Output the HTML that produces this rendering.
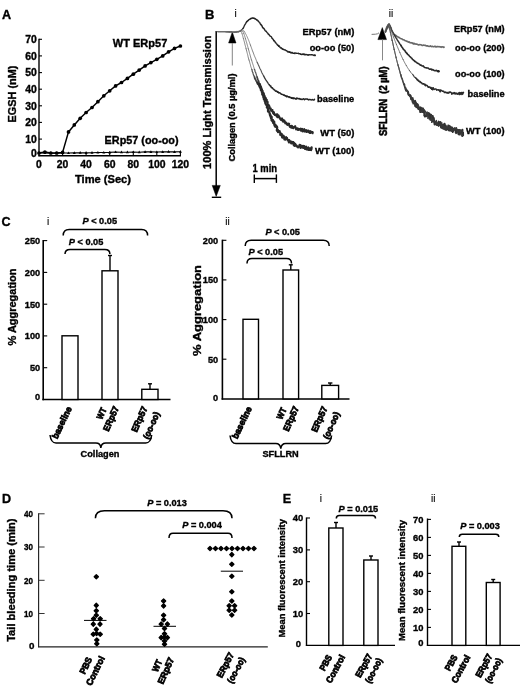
<!DOCTYPE html>
<html><head><meta charset="utf-8"><title>Figure</title>
<style>
html,body{margin:0;padding:0;background:#fff;}
svg{display:block;}
svg text{stroke:#000;stroke-width:.35px;}
svg text.n{stroke-width:.12px;}
svg text.r{stroke-width:.8px;}
svg text.m{stroke-width:.55px;}
</style></head><body>
<svg width="520" height="688" viewBox="0 0 520 688" font-family="'Liberation Sans', sans-serif" font-weight="bold" fill="#000">
<rect x="0" y="0" width="520" height="688" fill="#fff" stroke="none"/>
<g id="panelA">
<text x="2" y="18.7" font-size="12.6">A</text>
<line x1="39" y1="38.8" x2="39" y2="156.29999999999998" stroke-width="1.4" stroke="#000"/>
<line x1="38.4" y1="155.7" x2="181" y2="155.7" stroke-width="1.4" stroke="#000"/>
<text x="36.8" y="156.9" font-size="10.4" text-anchor="end">0</text>
<line x1="39" y1="139.1" x2="42" y2="139.1" stroke-width="1.1" stroke="#000"/>
<text x="36.8" y="142.8" font-size="10.4" text-anchor="end">10</text>
<line x1="39" y1="122.4" x2="42" y2="122.4" stroke-width="1.1" stroke="#000"/>
<text x="36.8" y="126.1" font-size="10.4" text-anchor="end">20</text>
<line x1="39" y1="105.8" x2="42" y2="105.8" stroke-width="1.1" stroke="#000"/>
<text x="36.8" y="109.5" font-size="10.4" text-anchor="end">30</text>
<line x1="39" y1="89.2" x2="42" y2="89.2" stroke-width="1.1" stroke="#000"/>
<text x="36.8" y="92.9" font-size="10.4" text-anchor="end">40</text>
<line x1="39" y1="72.6" x2="42" y2="72.6" stroke-width="1.1" stroke="#000"/>
<text x="36.8" y="76.3" font-size="10.4" text-anchor="end">50</text>
<line x1="39" y1="55.9" x2="42" y2="55.9" stroke-width="1.1" stroke="#000"/>
<text x="36.8" y="59.6" font-size="10.4" text-anchor="end">60</text>
<line x1="39" y1="39.3" x2="42" y2="39.3" stroke-width="1.1" stroke="#000"/>
<text x="36.8" y="43" font-size="10.4" text-anchor="end">70</text>
<text x="39" y="168.3" font-size="10.4" text-anchor="middle">0</text>
<line x1="62.6" y1="155.7" x2="62.6" y2="151.7" stroke-width="1.1" stroke="#000"/>
<text x="62.6" y="168.3" font-size="10.4" text-anchor="middle">20</text>
<line x1="86.1" y1="155.7" x2="86.1" y2="151.7" stroke-width="1.1" stroke="#000"/>
<text x="86.1" y="168.3" font-size="10.4" text-anchor="middle">40</text>
<line x1="109.7" y1="155.7" x2="109.7" y2="151.7" stroke-width="1.1" stroke="#000"/>
<text x="109.7" y="168.3" font-size="10.4" text-anchor="middle">60</text>
<line x1="133.3" y1="155.7" x2="133.3" y2="151.7" stroke-width="1.1" stroke="#000"/>
<text x="133.3" y="168.3" font-size="10.4" text-anchor="middle">80</text>
<line x1="156.8" y1="155.7" x2="156.8" y2="151.7" stroke-width="1.1" stroke="#000"/>
<text x="156.8" y="168.3" font-size="10.4" text-anchor="middle">100</text>
<line x1="180.4" y1="155.7" x2="180.4" y2="151.7" stroke-width="1.1" stroke="#000"/>
<text x="180.4" y="168.3" font-size="10.4" text-anchor="middle">120</text>
<text x="103" y="182.5" font-size="10.5" text-anchor="middle" textLength="56" lengthAdjust="spacingAndGlyphs">Time (Sec)</text>
<text x="16" y="94" font-size="10.5" text-anchor="middle" transform="rotate(-90 16 94)" textLength="57" lengthAdjust="spacingAndGlyphs">EGSH (nM)</text>
<path d="M39,153 L44.9,152 L50.8,153 L56.7,153 L62.6,152.4 L68.5,131.9 L74.3,124.9 L80.2,118.3 L86.1,112.5 L92,107.5 L97.9,101.7 L103.8,95.8 L109.7,90.8 L115.6,85.9 L121.5,82.5 L127.4,78.4 L133.3,74.2 L139.2,70.1 L145.1,65.9 L150.9,62.6 L156.8,59.3 L162.7,55.9 L168.6,51.8 L174.5,48.4 L180.4,46" stroke-width="1.5" fill="none" stroke="#000" stroke-linejoin="round"/>
<circle cx="39" cy="153" r="1.85" stroke="none" fill="#000"/>
<circle cx="44.9" cy="152" r="1.85" stroke="none" fill="#000"/>
<circle cx="50.8" cy="153" r="1.85" stroke="none" fill="#000"/>
<circle cx="56.7" cy="153" r="1.85" stroke="none" fill="#000"/>
<circle cx="62.6" cy="152.4" r="1.85" stroke="none" fill="#000"/>
<circle cx="68.5" cy="131.9" r="1.85" stroke="none" fill="#000"/>
<circle cx="74.3" cy="124.9" r="1.85" stroke="none" fill="#000"/>
<circle cx="80.2" cy="118.3" r="1.85" stroke="none" fill="#000"/>
<circle cx="86.1" cy="112.5" r="1.85" stroke="none" fill="#000"/>
<circle cx="92" cy="107.5" r="1.85" stroke="none" fill="#000"/>
<circle cx="97.9" cy="101.7" r="1.85" stroke="none" fill="#000"/>
<circle cx="103.8" cy="95.8" r="1.85" stroke="none" fill="#000"/>
<circle cx="109.7" cy="90.8" r="1.85" stroke="none" fill="#000"/>
<circle cx="115.6" cy="85.9" r="1.85" stroke="none" fill="#000"/>
<circle cx="121.5" cy="82.5" r="1.85" stroke="none" fill="#000"/>
<circle cx="127.4" cy="78.4" r="1.85" stroke="none" fill="#000"/>
<circle cx="133.3" cy="74.2" r="1.85" stroke="none" fill="#000"/>
<circle cx="139.2" cy="70.1" r="1.85" stroke="none" fill="#000"/>
<circle cx="145.1" cy="65.9" r="1.85" stroke="none" fill="#000"/>
<circle cx="150.9" cy="62.6" r="1.85" stroke="none" fill="#000"/>
<circle cx="156.8" cy="59.3" r="1.85" stroke="none" fill="#000"/>
<circle cx="162.7" cy="55.9" r="1.85" stroke="none" fill="#000"/>
<circle cx="168.6" cy="51.8" r="1.85" stroke="none" fill="#000"/>
<circle cx="174.5" cy="48.4" r="1.85" stroke="none" fill="#000"/>
<circle cx="180.4" cy="46" r="1.85" stroke="none" fill="#000"/>
<path d="M39,153 L44.9,152.9 L50.8,153.2 L56.7,153.2 L62.6,153 L68.5,153 L74.3,152.9 L80.2,152.7 L86.1,152.9 L92,152.7 L97.9,152.5 L103.8,152.5 L109.7,152.4 L115.6,152 L121.5,152.2 L127.4,152.2 L133.3,152 L139.2,152.2 L145.1,151.9 L150.9,151.9 L156.8,152 L162.7,151.9 L168.6,151.7 L174.5,151.9 L180.4,151.7" stroke-width="1.1" fill="none" stroke="#000"/>
<path d="M37.5,154 L39,151.4 L40.5,154z" stroke="none" fill="#000"/>
<path d="M43.4,153.9 L44.9,151.3 L46.4,153.9z" stroke="none" fill="#000"/>
<path d="M49.3,154.2 L50.8,151.6 L52.3,154.2z" stroke="none" fill="#000"/>
<path d="M55.2,154.2 L56.7,151.6 L58.2,154.2z" stroke="none" fill="#000"/>
<path d="M61.1,154 L62.6,151.4 L64.1,154z" stroke="none" fill="#000"/>
<path d="M67,154 L68.5,151.4 L70,154z" stroke="none" fill="#000"/>
<path d="M72.8,153.9 L74.3,151.3 L75.8,153.9z" stroke="none" fill="#000"/>
<path d="M78.7,153.7 L80.2,151.1 L81.7,153.7z" stroke="none" fill="#000"/>
<path d="M84.6,153.9 L86.1,151.3 L87.6,153.9z" stroke="none" fill="#000"/>
<path d="M90.5,153.7 L92,151.1 L93.5,153.7z" stroke="none" fill="#000"/>
<path d="M96.4,153.5 L97.9,150.9 L99.4,153.5z" stroke="none" fill="#000"/>
<path d="M102.3,153.5 L103.8,150.9 L105.3,153.5z" stroke="none" fill="#000"/>
<path d="M108.2,153.4 L109.7,150.8 L111.2,153.4z" stroke="none" fill="#000"/>
<path d="M114.1,153 L115.6,150.4 L117.1,153z" stroke="none" fill="#000"/>
<path d="M120,153.2 L121.5,150.6 L123,153.2z" stroke="none" fill="#000"/>
<path d="M125.9,153.2 L127.4,150.6 L128.9,153.2z" stroke="none" fill="#000"/>
<path d="M131.8,153 L133.3,150.4 L134.8,153z" stroke="none" fill="#000"/>
<path d="M137.7,153.2 L139.2,150.6 L140.7,153.2z" stroke="none" fill="#000"/>
<path d="M143.6,152.9 L145.1,150.3 L146.6,152.9z" stroke="none" fill="#000"/>
<path d="M149.4,152.9 L150.9,150.3 L152.4,152.9z" stroke="none" fill="#000"/>
<path d="M155.3,153 L156.8,150.4 L158.3,153z" stroke="none" fill="#000"/>
<path d="M161.2,152.9 L162.7,150.3 L164.2,152.9z" stroke="none" fill="#000"/>
<path d="M167.1,152.7 L168.6,150.1 L170.1,152.7z" stroke="none" fill="#000"/>
<path d="M173,152.9 L174.5,150.3 L176,152.9z" stroke="none" fill="#000"/>
<path d="M178.9,152.7 L180.4,150.1 L181.9,152.7z" stroke="none" fill="#000"/>
<text x="112.8" y="46.6" font-size="10.8" textLength="54.5" lengthAdjust="spacingAndGlyphs">WT ERp57</text>
<text x="104.6" y="143.7" font-size="10.8" textLength="74" lengthAdjust="spacingAndGlyphs">ERp57 (oo-oo)</text>
</g>
<g id="panelB">
<text x="205" y="18.5" font-size="13">B</text>
<text x="235.5" y="17" font-size="10" text-anchor="middle" font-weight="normal" class="n">i</text>
<line x1="216.2" y1="31" x2="216.2" y2="188" stroke-width="1.5" stroke="#000"/>
<line x1="216.2" y1="31.6" x2="232" y2="31.6" stroke-width="0.9" stroke="#555"/>
<path d="M212.2,185.4 L220.3,185.4 L216.2,196.4 z" stroke-width="0.5" fill="#000" stroke="#000"/>
<line x1="211.8" y1="197.3" x2="221.2" y2="197.3" stroke-width="1.4" stroke="#000"/>
<text x="210.6" y="102.2" font-size="10.4" text-anchor="middle" transform="rotate(-90 210.6 102.2)" textLength="133.5" lengthAdjust="spacingAndGlyphs">100% Light Transmission</text>
<path d="M232.3,32 L228.6,43 L236,43 z" stroke-width="0.5" fill="#000" stroke="#000"/>
<line x1="232.3" y1="43" x2="232.3" y2="65.5" stroke-width="0.9" stroke="#777"/>
<text x="234.8" y="117.5" font-size="8.4" text-anchor="middle" transform="rotate(-90 234.8 117.5)" textLength="88" lengthAdjust="spacingAndGlyphs">Collagen (0.5 µg/ml)</text>
<path d="M218,32 L218.5,32 L219.1,32 L219.9,32 L220.7,32 L221.6,32 L222.6,32 L223.6,32 L224.6,32 L225.6,32 L226.6,32 L227.6,32 L228.5,32 L229.3,32 L230,32 L230.6,32 L231.2,32 L231.8,32.1 L232.3,32.1 L232.8,32.1 L233.2,32.1 L233.6,32.2 L234.1,32.2" stroke-width="0.9" fill="none" stroke="#666666" stroke-linejoin="round" stroke-linecap="round"/>
<path d="M234.1,32.2 L234.5,32.2 L234.9,32.2 L235.3,32.2 L235.7,32.2 L236.1,32.1 L236.5,32 L236.9,31.9 L237.4,31.8 L237.8,31.6 L238.3,31.5 L238.8,31.3 L239.2,31.1 L239.6,30.9 L240.1,30.7 L240.5,30.4 L240.9,30.2 L241.3,30 L241.6,29.7 L242,29.5 L242.3,29.2 L242.6,29 L242.8,28.6" stroke-width="1.06" fill="none" stroke="#505050" stroke-linejoin="round" stroke-linecap="round"/>
<path d="M242.8,28.6 L243.1,28.4 L243.3,28 L243.5,27.6 L243.6,27.4 L243.9,26.8 L244,26.5 L244.1,26.2 L244.3,25.8 L244.4,25.5 L244.6,25.2 L244.8,24.9 L245,24.5 L245.2,24.1 L245.4,24 L245.6,23.7 L245.8,23.3 L245.9,23 L246.1,22.6 L246.3,22.3 L246.5,22 L246.7,21.7 L246.9,21.5" stroke-width="1.38" fill="none" stroke="#242424" stroke-linejoin="round" stroke-linecap="round"/>
<path d="M246.9,21.5 L247.2,21.5 L247.5,20.9 L247.7,20.8 L248,20.4 L248.3,20.6 L248.6,20.1 L248.9,19.7 L249.2,19.5 L249.6,19.2 L249.9,19.3 L250.3,18.7 L250.6,18.4 L251,18.7 L251.4,18.4 L251.7,18.1 L252.1,18.2 L252.5,18.1 L252.9,17.8 L253.3,18.3 L253.7,18.3 L254.2,18.4 L254.5,18.5" stroke-width="1.4" fill="none" stroke="#222222" stroke-linejoin="round" stroke-linecap="round"/>
<path d="M254.5,18.5 L254.9,18.4 L255.3,18.8 L255.8,19.3 L256.3,19.4 L256.7,20.1 L257.2,20 L257.5,20.2 L257.9,20.6 L258.3,21.4 L258.8,21.5 L259.1,22.1 L259.3,22.4 L259.8,22.9 L260.1,23.1 L260.3,23.8 L260.6,24.3 L261.1,24.5 L261.3,25.4 L261.7,25.3 L261.9,25.9 L262.4,26.9 L262.6,27.5" stroke-width="1.4" fill="none" stroke="#222222" stroke-linejoin="round" stroke-linecap="round"/>
<path d="M262.6,27.5 L263.2,27.9 L263.5,28.3 L263.9,28.5 L264.6,29.6 L265,30.4 L265.5,31 L266.2,31.1 L266.6,31.8 L267.2,32.7 L267.8,33.2 L268.4,34.3 L269,34.5 L269.6,35.6 L270.2,36.2 L270.7,36.4 L271.2,36.6 L271.7,37.3 L272,38.4 L272.5,38.7 L273.1,39.3 L273.4,39.8 L273.8,40.6" stroke-width="1.4" fill="none" stroke="#222222" stroke-linejoin="round" stroke-linecap="round"/>
<path d="M273.8,40.6 L274.1,40.9 L274.6,41.2 L275.1,41.9 L275.4,42.6 L275.9,42.8 L276.2,43.3 L276.6,43.9 L277,44.2 L277.4,45 L277.9,45.4 L278.3,45.2 L278.6,46.2 L279.1,45.8 L279.2,46.5 L279.6,46.6 L280,47.3 L280.6,47.9 L280.8,48 L281.4,47.8 L281.9,48.8 L282.2,49.1 L282.7,49" stroke-width="1.4" fill="none" stroke="#222222" stroke-linejoin="round" stroke-linecap="round"/>
<path d="M282.7,49 L283.3,49.6 L283.6,49.5 L284.3,49.7 L284.7,50 L285.4,49.9 L286,50.6 L286.4,50.7 L287.2,51.1 L287.6,51.8 L288.4,52 L288.7,51.6 L289.3,52.2 L289.8,51.8 L290.4,52.7 L290.9,52.2 L291.2,53 L291.8,52.9 L292,52.4 L292.6,52.8 L292.8,53.3 L293.3,53.3 L293.6,53.4" stroke-width="1.4" fill="none" stroke="#222222" stroke-linejoin="round" stroke-linecap="round"/>
<path d="M293.6,53.4 L293.9,53.4 L294.4,53 L294.8,53.6 L295.1,52.9 L295.6,53.1 L295.9,53.1 L296.3,53.2 L296.8,53.4 L297.3,53.4 L297.7,53.4 L298,53.3 L298.4,53.3 L299,53.9 L299.3,53.9 L299.9,53.6 L300.3,53.9 L300.6,54.3 L301.1,54.1 L301.6,54.6 L302,54.5 L302.5,54.4 L302.9,54.2" stroke-width="1.4" fill="none" stroke="#222222" stroke-linejoin="round" stroke-linecap="round"/>
<path d="M302.9,54.2 L303.3,54 L303.8,54.6 L304.4,54.1 L304.8,54.8 L305.6,54.7 L305.9,54.3 L306.4,54.6 L306.9,54.6 L307.5,55.1 L308.2,54.8 L308.4,55.2 L308.9,54.7 L309.4,54.7 L310,54.9 L310.4,54.9 L310.9,54.7 L311.5,54.9 L312,54.6 L312.6,54.8 L313.2,55.1 L313.7,55.2 L314.1,55.5" stroke-width="1.4" fill="none" stroke="#222222" stroke-linejoin="round" stroke-linecap="round"/>
<path d="M314.1,55.5 L314.4,55 L315,54.9 L315.2,55.3 L315.3,55.5" stroke-width="1.4" fill="none" stroke="#222222" stroke-linejoin="round" stroke-linecap="round"/>
<path d="M232,31.6 L232.3,31.6 L232.8,31.6 L233.3,31.6 L233.8,31.5 L234.5,31.5 L235.1,31.5 L235.8,31.5 L236.5,31.4 L237.2,31.4 L237.8,31.4 L238.5,31.3 L239,31.3 L239.6,31.2 L240,31.2 L240.4,31.1 L240.7,31" stroke-width="0.8" fill="none" stroke="#777777" stroke-linejoin="round" stroke-linecap="round"/>
<path d="M240.7,31 L241,30.9 L241.2,30.7 L241.5,30.5 L241.7,30.3 L241.9,30.1 L242,30 L242.2,29.9 L242.4,29.8 L242.6,29.8 L242.8,29.8 L243,30 L243.3,30.2 L243.6,30.5 L243.9,30.9 L244.2,31.3 L244.5,31.8" stroke-width="0.8" fill="none" stroke="#777777" stroke-linejoin="round" stroke-linecap="round"/>
<path d="M244.5,31.8 L244.8,32.3 L245.2,32.9 L245.5,33.5 L245.8,34.1 L246.2,34.8 L246.5,35.6 L246.9,36.3 L247.3,37.1 L247.6,38 L248,38.8 L248.4,39.7 L248.8,40.7 L249.2,41.7 L249.6,42.8 L250,43.9 L250.4,45" stroke-width="0.8" fill="none" stroke="#777777" stroke-linejoin="round" stroke-linecap="round"/>
<path d="M250.4,45 L250.8,46.2 L251.3,47.4 L251.7,48.6 L252.1,49.7 L252.5,50.9 L253,52 L253.4,53.1 L253.8,54.2 L254.2,55.3 L254.6,56.3 L255,57.2 L255.5,58.2 L255.9,59.3 L256.3,60.3 L256.7,61.3 L257.1,62.2" stroke-width="0.87" fill="none" stroke="#6e6e6e" stroke-linejoin="round" stroke-linecap="round"/>
<path d="M257.1,62.2 L257.5,63 L258,64 L258.4,65 L258.8,65.8 L259.2,66.7 L259.6,67.6 L260,68.7 L260.5,69.4 L260.9,70.3 L261.3,71.2 L261.6,72 L262,73.1 L262.5,73.7 L263,74.9 L263.3,75.3 L263.7,76" stroke-width="1.09" fill="none" stroke="#535353" stroke-linejoin="round" stroke-linecap="round"/>
<path d="M263.7,76 L264.1,76.8 L264.5,77.6 L265,78.7 L265.4,79.2 L265.8,79.9 L266.2,80.4 L266.5,81 L267.1,81.5 L267.4,82.4 L267.9,82.7 L268.1,83.3 L268.6,84 L269.1,84.8 L269.5,84.7 L269.7,85.7 L270.4,86" stroke-width="1.31" fill="none" stroke="#383838" stroke-linejoin="round" stroke-linecap="round"/>
<path d="M270.4,86 L270.8,86.1 L271.2,87.3 L271.8,87.8 L272.3,87.7 L272.6,88.1 L273.2,89 L273.8,89.4 L274.3,89.9 L274.7,90.1 L275.2,90.7 L275.8,91.3 L276.5,91 L276.9,91.4 L277.6,92.2 L278.1,91.9 L278.8,92.8" stroke-width="1.5" fill="none" stroke="#222222" stroke-linejoin="round" stroke-linecap="round"/>
<path d="M278.8,92.8 L279.4,92.8 L280.1,92.9 L280.7,93.7 L281.6,94.3 L282.4,94.4 L282.9,94.5 L283.9,95.3 L284.4,95 L285.2,95.9 L285.9,95.8 L286.6,96.7 L287.2,96.1 L287.9,96.7 L288.6,96.7 L289.2,97.4 L289.6,97.1" stroke-width="1.5" fill="none" stroke="#222222" stroke-linejoin="round" stroke-linecap="round"/>
<path d="M289.6,97.1 L290.2,97.3 L290.7,97.4 L291,98 L291.4,98.3 L291.9,97.6 L292.3,97.9 L292.8,98.5 L293.1,98 L293.5,98.7 L294,97.8 L294.4,98.2 L295.1,98.8 L295.5,99 L296.1,98.4 L296.3,99.1 L296.9,98.2" stroke-width="1.5" fill="none" stroke="#222222" stroke-linejoin="round" stroke-linecap="round"/>
<path d="M296.9,98.2 L297.3,98.6 L297.6,98.6 L298,98.4 L298.5,98.8 L299.2,98.6 L299.7,98.7 L300.1,99.4 L300.8,99 L301.2,99.1 L302,99.6 L302.7,99.1 L303.7,98.8 L304.5,99.7 L305.6,98.9 L306.4,99 L307.7,99.3" stroke-width="1.5" fill="none" stroke="#222222" stroke-linejoin="round" stroke-linecap="round"/>
<path d="M307.7,99.3 L308.7,99.9 L309.6,99.4 L310.8,99.8 L311.5,99.9 L312.4,99.5 L313.1,100 L314,99.9 L314.5,99.3" stroke-width="1.5" fill="none" stroke="#222222" stroke-linejoin="round" stroke-linecap="round"/>
<path d="M228,32 L228.2,32 L228.5,32 L228.8,32 L229.2,32 L229.5,32 L229.9,32 L230.4,32 L230.8,32 L231.3,32 L231.8,32" stroke-width="0.8" fill="none" stroke="#666666" stroke-linejoin="round" stroke-linecap="round"/>
<path d="M231.8,32 L232.2,32 L232.7,32 L233.2,32 L233.6,32 L234.1,32 L234.5,32 L234.9,32 L235.3,32 L235.7,32 L236,32" stroke-width="0.8" fill="none" stroke="#666666" stroke-linejoin="round" stroke-linecap="round"/>
<path d="M236,32 L236.3,32 L236.6,32 L236.8,32 L237.1,31.9 L237.3,31.9 L237.5,31.9 L237.8,31.9 L238,31.8 L238.2,31.8 L238.3,31.8" stroke-width="0.8" fill="none" stroke="#666666" stroke-linejoin="round" stroke-linecap="round"/>
<path d="M238.3,31.8 L238.5,31.8 L238.7,31.7 L238.9,31.7 L239,31.7 L239.2,31.6 L239.4,31.6 L239.5,31.6 L239.7,31.6 L239.8,31.5 L240,31.5" stroke-width="0.8" fill="none" stroke="#666666" stroke-linejoin="round" stroke-linecap="round"/>
<path d="M240,31.5 L240.2,31.5 L240.3,31.4 L240.5,31.3 L240.6,31.3 L240.7,31.2 L240.8,31.1 L241,31 L241.1,30.9 L241.2,30.8 L241.3,30.7" stroke-width="0.8" fill="none" stroke="#666666" stroke-linejoin="round" stroke-linecap="round"/>
<path d="M241.3,30.7 L241.4,30.7 L241.5,30.6 L241.6,30.6 L241.8,30.5 L241.9,30.5 L242,30.6 L242.1,30.6 L242.2,30.7 L242.4,30.8 L242.5,31" stroke-width="0.8" fill="none" stroke="#666666" stroke-linejoin="round" stroke-linecap="round"/>
<path d="M242.5,31 L242.6,31.2 L242.8,31.4 L242.9,31.6 L243,31.8 L243.1,32.1 L243.3,32.3 L243.4,32.6 L243.5,32.9 L243.6,33.2 L243.8,33.5" stroke-width="0.8" fill="none" stroke="#666666" stroke-linejoin="round" stroke-linecap="round"/>
<path d="M243.8,33.5 L243.9,33.9 L244.1,34.3 L244.2,34.7 L244.4,35.2 L244.5,35.7 L244.7,36.2 L244.9,36.8 L245.1,37.4 L245.3,38.1 L245.5,38.8" stroke-width="0.8" fill="none" stroke="#666666" stroke-linejoin="round" stroke-linecap="round"/>
<path d="M245.5,38.8 L245.7,39.6 L246,40.4 L246.2,41.3 L246.5,42.2 L246.8,43.2 L247.1,44.3 L247.4,45.4 L247.7,46.5 L248,47.6 L248.3,48.8" stroke-width="0.8" fill="none" stroke="#666666" stroke-linejoin="round" stroke-linecap="round"/>
<path d="M248.3,48.8 L248.7,50 L249,51.2 L249.3,52.3 L249.6,53.5 L250,54.7 L250.3,55.8 L250.6,56.9 L250.9,58 L251.2,59 L251.5,60" stroke-width="0.8" fill="none" stroke="#666666" stroke-linejoin="round" stroke-linecap="round"/>
<path d="M251.5,60 L251.8,60.9 L252.1,61.9 L252.4,62.9 L252.7,63.7 L253,64.7 L253.3,65.5 L253.6,66.6 L253.9,67.5 L254.1,68.4 L254.4,69.3" stroke-width="0.8" fill="none" stroke="#666666" stroke-linejoin="round" stroke-linecap="round"/>
<path d="M254.4,69.3 L254.8,69.9 L255,71.1 L255.2,71.7 L255.6,72.4 L255.9,73.3 L256.2,74 L256.4,75.2 L256.6,75.6 L256.9,76.4 L257.1,77.1" stroke-width="1.22" fill="none" stroke="#525252" stroke-linejoin="round" stroke-linecap="round"/>
<path d="M257.1,77.1 L257.4,78.3 L257.8,79 L257.9,79.7 L258.1,80.2 L258.5,80.8 L258.8,81.6 L259,82.6 L259.1,83.3 L259.5,83.5 L259.8,84" stroke-width="1.65" fill="none" stroke="#3e3e3e" stroke-linejoin="round" stroke-linecap="round"/>
<path d="M259.8,84 L260.1,84.9 L260.2,85.7 L260.4,85.7 L260.7,86.2 L261,86.9 L261.2,88.3 L261.4,88.5 L261.5,88.3 L261.6,89 L262,89.9" stroke-width="2.08" fill="none" stroke="#2a2a2a" stroke-linejoin="round" stroke-linecap="round"/>
<path d="M262,89.9 L262.2,91 L262.3,90.7 L262.7,90.9 L262.6,91.8 L262.8,92.2 L263,93 L263.4,92.8 L263.6,93.6 L263.5,94.7 L263.7,93.9" stroke-width="2.1" fill="none" stroke="#2a2a2a" stroke-linejoin="round" stroke-linecap="round"/>
<path d="M263.7,93.9 L263.8,95.1 L264.4,95.7 L264.3,95.3 L264.3,96.3 L264.8,96.2 L265,96.8 L265.4,97.8 L265.2,98.5 L265.3,98.4 L265.7,98.3" stroke-width="2.1" fill="none" stroke="#2a2a2a" stroke-linejoin="round" stroke-linecap="round"/>
<path d="M265.7,98.3 L265.8,99.8 L266,100 L266.8,99.8 L266.6,101.2 L267,101.9 L267.5,101.6 L267.5,102.4 L267.6,104.3 L268.3,104.6 L268.1,105.5" stroke-width="2.1" fill="none" stroke="#2a2a2a" stroke-linejoin="round" stroke-linecap="round"/>
<path d="M268.1,105.5 L268.8,105.3 L269.1,105.9 L269.1,105.7 L269.4,106.2 L269.8,108.3 L270.3,109.1 L270.7,108.4 L270.9,109.3 L271.4,110 L271.3,110.7" stroke-width="2.1" fill="none" stroke="#2a2a2a" stroke-linejoin="round" stroke-linecap="round"/>
<path d="M271.3,110.7 L272.2,110.2 L272.5,110.1 L272.4,111 L273.1,113.2 L273.5,112 L274,112.3 L273.8,114.1 L274.5,113.9 L275,115 L275.2,114.9" stroke-width="2.1" fill="none" stroke="#2a2a2a" stroke-linejoin="round" stroke-linecap="round"/>
<path d="M275.2,114.9 L275.8,115.3 L276,115.2 L276.5,114.3 L276.6,115.5 L276.9,116.6 L277.3,114.4 L277.7,117.3 L278.3,115.3 L278.4,115.3 L279.4,117.4" stroke-width="2.1" fill="none" stroke="#2a2a2a" stroke-linejoin="round" stroke-linecap="round"/>
<path d="M279.4,117.4 L279.8,118 L279.6,118 L280.2,119 L281,119.6 L280.8,119.9 L281.9,120.4 L281.6,118.6 L282,118.4 L283,121.1 L283.2,121.5" stroke-width="2.1" fill="none" stroke="#2a2a2a" stroke-linejoin="round" stroke-linecap="round"/>
<path d="M283.2,121.5 L283.6,120.3 L283.5,120.1 L284.5,120.7 L284.5,121.7 L284.6,121.6 L285.3,123.3 L285.7,122.4 L286.6,123.2 L286.9,123.9 L286.6,123.5" stroke-width="2.1" fill="none" stroke="#2a2a2a" stroke-linejoin="round" stroke-linecap="round"/>
<path d="M286.6,123.5 L287.3,124.9 L287.6,124.9 L288.2,123.7 L288.9,123.6 L289.2,124 L288.8,124.3 L289.9,126.9 L289.6,125.6 L290.4,126.7 L290.5,126" stroke-width="2.1" fill="none" stroke="#2a2a2a" stroke-linejoin="round" stroke-linecap="round"/>
<path d="M290.5,126 L291,127.2 L291.3,127.7 L291.7,125.7 L292.5,126.7 L292.3,127.3 L292.7,127.9 L293.6,128.1 L294,127 L294.1,127.2 L295,126.5" stroke-width="2.1" fill="none" stroke="#2a2a2a" stroke-linejoin="round" stroke-linecap="round"/>
<path d="M295,126.5 L295.3,126.4 L295.1,127.3 L296.1,128.1 L296.1,129.4 L296.3,128.3 L297,129.3 L297.6,129.1 L297.7,128.3 L297.9,129.9 L298.8,129.8" stroke-width="2.1" fill="none" stroke="#2a2a2a" stroke-linejoin="round" stroke-linecap="round"/>
<path d="M298.8,129.8 L298.7,129 L299.7,129.5 L299.5,129.2 L300.6,128.7 L300.3,129 L301.1,130.7 L301,128.7 L301.4,129.3 L302,128.9 L302.1,129.1" stroke-width="2.1" fill="none" stroke="#2a2a2a" stroke-linejoin="round" stroke-linecap="round"/>
<path d="M302.1,129.1 L303,130.8 L302.5,131.5 L302.8,129.9 L303.8,131.2 L303.9,130.1 L303.6,130.8 L303.8,129.6 L304.2,129.1 L304.5,131.4 L304.9,130.6" stroke-width="2.1" fill="none" stroke="#2a2a2a" stroke-linejoin="round" stroke-linecap="round"/>
<path d="M304.9,130.6 L305.1,130.5 L304.9,131 L305.3,131.4 L306,130.5 L305.9,131.5 L306,130 L306.5,132 L306.7,131.5 L307.1,131.5 L307.1,130.9" stroke-width="2.1" fill="none" stroke="#2a2a2a" stroke-linejoin="round" stroke-linecap="round"/>
<path d="M307.1,130.9 L307.1,131.4 L307.2,130.9 L308.1,131.8 L308.3,130.5 L308.5,131.1 L309,131.1 L309.4,132.7 L309.3,131.9 L310.2,131.2 L310.2,133" stroke-width="2.1" fill="none" stroke="#2a2a2a" stroke-linejoin="round" stroke-linecap="round"/>
<path d="M310.2,133 L310.2,131.7 L310.6,132.5 L311.6,131.8 L311.2,132 L311.8,132.5 L312.1,132.3 L312.6,132 L312.5,133.3 L312.5,132.5 L312.8,132.8" stroke-width="2.1" fill="none" stroke="#2a2a2a" stroke-linejoin="round" stroke-linecap="round"/>
<path d="M226,32.3 L226.2,32.3 L226.5,32.3 L226.8,32.3 L227.1,32.3 L227.5,32.3 L227.9,32.3 L228.3,32.3 L228.8,32.3 L229.3,32.3 L229.7,32.3" stroke-width="0.8" fill="none" stroke="#666666" stroke-linejoin="round" stroke-linecap="round"/>
<path d="M229.7,32.3 L230.2,32.3 L230.7,32.3 L231.1,32.3 L231.6,32.3 L232.1,32.3 L232.5,32.3 L232.9,32.3 L233.3,32.3 L233.7,32.3 L234,32.3" stroke-width="0.8" fill="none" stroke="#666666" stroke-linejoin="round" stroke-linecap="round"/>
<path d="M234,32.3 L234.3,32.3 L234.6,32.3 L234.9,32.3 L235.2,32.3 L235.4,32.3 L235.7,32.2 L235.9,32.2 L236.1,32.2 L236.4,32.2 L236.6,32.2" stroke-width="0.8" fill="none" stroke="#666666" stroke-linejoin="round" stroke-linecap="round"/>
<path d="M236.6,32.2 L236.8,32.2 L237,32.1 L237.2,32.1 L237.4,32.1 L237.6,32.1 L237.8,32.1 L238,32.1 L238.1,32 L238.3,32 L238.5,32" stroke-width="0.8" fill="none" stroke="#666666" stroke-linejoin="round" stroke-linecap="round"/>
<path d="M238.5,32 L238.7,32 L238.8,31.9 L239,31.9 L239.1,31.8 L239.3,31.7 L239.4,31.6 L239.5,31.5 L239.6,31.4 L239.8,31.4 L239.9,31.3" stroke-width="0.8" fill="none" stroke="#666666" stroke-linejoin="round" stroke-linecap="round"/>
<path d="M239.9,31.3 L240,31.2 L240.1,31.1 L240.2,31.1 L240.3,31.1 L240.4,31.1 L240.5,31.1 L240.6,31.2 L240.8,31.2 L240.9,31.3 L241,31.5" stroke-width="0.8" fill="none" stroke="#666666" stroke-linejoin="round" stroke-linecap="round"/>
<path d="M241,31.5 L241.1,31.7 L241.2,31.9 L241.3,32 L241.5,32.2 L241.6,32.5 L241.7,32.7 L241.8,32.9 L241.9,33.2 L242,33.5 L242.1,33.8" stroke-width="0.8" fill="none" stroke="#666666" stroke-linejoin="round" stroke-linecap="round"/>
<path d="M242.1,33.8 L242.2,34.1 L242.3,34.5 L242.4,34.9 L242.5,35.3 L242.7,35.8 L242.8,36.3 L243,36.9 L243.1,37.5 L243.3,38.1 L243.5,38.8" stroke-width="0.8" fill="none" stroke="#666666" stroke-linejoin="round" stroke-linecap="round"/>
<path d="M243.5,38.8 L243.7,39.6 L243.9,40.4 L244.2,41.3 L244.4,42.2 L244.7,43.2 L244.9,44.3 L245.2,45.3 L245.5,46.5 L245.8,47.6 L246.1,48.8" stroke-width="0.8" fill="none" stroke="#666666" stroke-linejoin="round" stroke-linecap="round"/>
<path d="M246.1,48.8 L246.4,50 L246.7,51.1 L247,52.3 L247.3,53.5 L247.6,54.6 L247.9,55.8 L248.1,56.9 L248.4,58 L248.7,59 L249,60" stroke-width="0.8" fill="none" stroke="#666666" stroke-linejoin="round" stroke-linecap="round"/>
<path d="M249,60 L249.3,61 L249.6,61.9 L249.8,62.8 L250.1,63.8 L250.4,64.7 L250.6,65.8 L250.9,66.8 L251.2,67.7 L251.4,68.3 L251.8,69.3" stroke-width="0.8" fill="none" stroke="#666666" stroke-linejoin="round" stroke-linecap="round"/>
<path d="M251.8,69.3 L252.1,70.1 L252.2,71.2 L252.6,72.1 L252.9,72.6 L253.1,73.7 L253.4,74.6 L253.6,75.4 L254,75.6 L254.1,76.7 L254.6,77" stroke-width="1.25" fill="none" stroke="#525252" stroke-linejoin="round" stroke-linecap="round"/>
<path d="M254.6,77 L254.7,78.1 L255,78.8 L255.3,78.8 L255.6,79.7 L255.9,80.3 L256.1,80.9 L256.4,81.2 L256.8,81.5 L257,82.2 L257.4,82.7" stroke-width="1.71" fill="none" stroke="#3e3e3e" stroke-linejoin="round" stroke-linecap="round"/>
<path d="M257.4,82.7 L257.6,82.6 L257.7,83.7 L258.2,84 L258.3,84.2 L258.8,84.9 L259,84.7 L259.2,85.9 L259.4,86.1 L259.8,87 L260.1,86.7" stroke-width="2.18" fill="none" stroke="#2a2a2a" stroke-linejoin="round" stroke-linecap="round"/>
<path d="M260.1,86.7 L260,87.3 L260.5,88.3 L260.9,89.4 L260.8,90 L261.4,90.7 L261.5,90.4 L261.9,92 L262,92.8 L262.1,92.1 L262.4,94.1" stroke-width="2.2" fill="none" stroke="#2a2a2a" stroke-linejoin="round" stroke-linecap="round"/>
<path d="M262.4,94.1 L262.5,94.7 L263.1,94.5 L263.1,96 L263.3,95.9 L263.4,97.6 L264,97.8 L263.8,99.2 L264.4,98.8 L264.6,100.9 L265,100.8" stroke-width="2.2" fill="none" stroke="#2a2a2a" stroke-linejoin="round" stroke-linecap="round"/>
<path d="M265,100.8 L265.1,101.7 L265.1,101.7 L265.4,103.5 L265.8,104 L266.1,104.7 L266.3,104.5 L267.1,106 L266.8,107.4 L267.6,107.1 L267.8,108.4" stroke-width="2.2" fill="none" stroke="#2a2a2a" stroke-linejoin="round" stroke-linecap="round"/>
<path d="M267.8,108.4 L268,108.4 L268,111.6 L268.9,111.1 L269,111.4 L269.4,112.5 L269.8,114.2 L270,115.4 L269.9,113.7 L270.1,114.7 L270.3,115" stroke-width="2.2" fill="none" stroke="#2a2a2a" stroke-linejoin="round" stroke-linecap="round"/>
<path d="M270.3,115 L270.9,117.8 L271.1,118.6 L271.7,116.7 L271.7,118.2 L271.5,120.4 L271.9,119.7 L272.4,121.4 L272.7,120.2 L272.7,119.9 L273.4,122.9" stroke-width="2.2" fill="none" stroke="#2a2a2a" stroke-linejoin="round" stroke-linecap="round"/>
<path d="M273.4,122.9 L273,120.4 L273.2,121.8 L274.1,124 L274.2,121.7 L274.4,124.3 L274.5,125.6 L274.2,123.3 L275.1,126.4 L275.3,124.7 L275.5,126.7" stroke-width="2.2" fill="none" stroke="#2a2a2a" stroke-linejoin="round" stroke-linecap="round"/>
<path d="M275.5,126.7 L275.3,125.7 L275.7,125.4 L276.2,126 L276.2,126.4 L276.9,126.4 L277.2,127.5 L276.8,130.4 L277.3,130.9 L278.2,131.2 L277.8,130.1" stroke-width="2.2" fill="none" stroke="#2a2a2a" stroke-linejoin="round" stroke-linecap="round"/>
<path d="M277.8,130.1 L278,132.2 L279.1,131.6 L278.9,131 L279.6,131.9 L279.7,131.2 L279.6,131.3 L280.4,133.4 L280.2,134.9 L280.6,133.7 L280.8,133.6" stroke-width="2.2" fill="none" stroke="#2a2a2a" stroke-linejoin="round" stroke-linecap="round"/>
<path d="M280.8,133.6 L281.9,134.2 L281.5,135.1 L282.1,136.9 L282.2,137.5 L282.5,137.6 L283.5,135.7 L283.7,136.3 L283.9,136.4 L284.4,139.4 L285.4,139.5" stroke-width="2.2" fill="none" stroke="#2a2a2a" stroke-linejoin="round" stroke-linecap="round"/>
<path d="M285.4,139.5 L284.9,137.7 L286.1,137.2 L286.3,138.4 L286.9,137.8 L287.2,139.2 L286.9,138.3 L288,140.4 L287.7,140.4 L288.8,140 L288.9,140" stroke-width="2.2" fill="none" stroke="#2a2a2a" stroke-linejoin="round" stroke-linecap="round"/>
<path d="M288.9,140 L288.9,142.4 L289.8,140.7 L289.5,140.6 L290.4,142.2 L290.5,141.5 L291.2,143.4 L291.8,143.2 L291.6,141.7 L292.5,143.1 L292.9,142.1" stroke-width="2.2" fill="none" stroke="#2a2a2a" stroke-linejoin="round" stroke-linecap="round"/>
<path d="M292.9,142.1 L293.3,143.2 L293.8,145.2 L293.8,142.5 L294.6,144.3 L295,143.8 L294.6,145.9 L295.2,143.8 L295.6,145.4 L295.6,145.3 L296.4,145.5" stroke-width="2.2" fill="none" stroke="#2a2a2a" stroke-linejoin="round" stroke-linecap="round"/>
<path d="M296.4,145.5 L296.5,146.3 L297.6,146.9 L297.5,146.6 L297.9,146.8 L298,147.4 L299.3,146.2 L299.2,146.4 L299.6,144.8 L300.4,145.6 L300,145.3" stroke-width="2.2" fill="none" stroke="#2a2a2a" stroke-linejoin="round" stroke-linecap="round"/>
<path d="M300,145.3 L300.5,147.8 L300.6,145.4 L301.7,145.9 L301.4,147.3 L302.3,147.2 L302.9,145.8 L303.4,148 L303,146.1 L303.8,147.4 L304,146.2" stroke-width="2.2" fill="none" stroke="#2a2a2a" stroke-linejoin="round" stroke-linecap="round"/>
<path d="M304,146.2 L304.5,146.4 L305.1,148.9 L305.1,148 L306.1,146.7 L306.7,149.4 L306.7,147.7 L307.6,148.2 L307.6,149.6 L308.4,147.7 L308.3,147.7" stroke-width="2.2" fill="none" stroke="#2a2a2a" stroke-linejoin="round" stroke-linecap="round"/>
<path d="M308.3,147.7 L308.9,150 L309.7,149.8 L310.2,149.7 L309.8,148.6 L311.1,150.1 L310.7,148.4 L311.4,148.2 L311.6,147.3 L311.7,148.8 L311.5,147.6" stroke-width="2.2" fill="none" stroke="#2a2a2a" stroke-linejoin="round" stroke-linecap="round"/>
<line x1="254.3" y1="178.6" x2="276.4" y2="178.6" stroke-width="1.5" stroke="#000"/>
<line x1="254.3" y1="174.4" x2="254.3" y2="182.9" stroke-width="1.4" stroke="#000"/>
<line x1="276.4" y1="174.4" x2="276.4" y2="182.9" stroke-width="1.4" stroke="#000"/>
<text x="264.8" y="171.6" font-size="10.2" text-anchor="middle" textLength="24.5" lengthAdjust="spacingAndGlyphs">1 min</text>
<text x="354.3" y="35" font-size="9.3" text-anchor="end" textLength="51.8" lengthAdjust="spacingAndGlyphs">ERp57 (nM)</text>
<text x="354.3" y="51.4" font-size="9.3" text-anchor="end" textLength="44.6" lengthAdjust="spacingAndGlyphs">oo-oo (50)</text>
<text x="354.3" y="102.2" font-size="9.3" text-anchor="end" textLength="37.2" lengthAdjust="spacingAndGlyphs">baseline</text>
<text x="354.3" y="135.9" font-size="9.3" text-anchor="end" textLength="34" lengthAdjust="spacingAndGlyphs">WT (50)</text>
<text x="354.3" y="154.2" font-size="9.3" text-anchor="end" textLength="39.3" lengthAdjust="spacingAndGlyphs">WT (100)</text>
<text x="391" y="17" font-size="10" text-anchor="middle" font-weight="normal" class="n">ii</text>
<path d="M371.6,34.4 L375.5,34.2 Q378,34 379,32.8" stroke-width="1.0" fill="none" stroke="#777"/>
<path d="M382.3,27.6 L377.9,39.6 L386.5,39.6 z" stroke-width="0.5" fill="#000" stroke="#000"/>
<line x1="382.5" y1="39.6" x2="382.5" y2="60.3" stroke-width="1.0" stroke="#888"/>
<text x="387.3" y="101.2" font-size="10.8" text-anchor="middle" transform="rotate(-90 387.3 101.2)" textLength="69.5" lengthAdjust="spacingAndGlyphs" class="m">SFLLRN &#160;(2 µM)</text>
<path d="M385,32 L385.1,31.8 L385.1,31.6 L385.2,31.4 L385.3,31.1 L385.4,30.8 L385.5,30.5 L385.6,30.2 L385.7,29.9 L385.9,29.5 L386,29.2 L386.1,28.9 L386.2,28.6 L386.4,28.3 L386.5,28 L386.6,27.7 L386.8,27.4 L386.9,27.1 L387,26.8 L387.2,26.5 L387.3,26.2 L387.5,25.9 L387.6,25.6 L387.8,25.4 L387.9,25.1 L388.1,24.9 L388.2,24.8 L388.4,24.7 L388.5,24.6 L388.6,24.6 L388.8,24.6 L388.9,24.7 L389,24.7 L389.2,24.8 L389.3,25 L389.4,25.2 L389.5,25.3 L389.7,25.6 L389.8,25.8 L390,26.1 L390.1,26.4 L390.3,26.7 L390.5,27 L390.7,27.4 L390.9,27.8 L391.1,28.2 L391.3,28.7 L391.5,29.3 L391.8,30 L392,30.4 L392.3,31.1 L392.5,31.6 L392.8,32.2 L393.1,32.7 L393.4,33.3 L393.8,33.7 L394.2,34.3 L394.6,34.6 L395.1,34.9 L395.6,35.4 L396.1,35.6 L396.7,36.1 L397.3,36.7 L397.9,36.7 L398.4,37.4 L399,37.3 L399.7,37.8 L400.3,38.3 L400.9,38.7 L401.4,38.7 L402,38.9 L402.5,39.3 L403.1,39.8 L403.7,39.8 L404.1,40 L404.7,40.4 L405.3,40.8 L405.9,40.8 L406.3,41.1 L407,41.2 L407.4,41.7 L407.9,41.6 L408.6,42.2 L409.1,41.8 L409.7,42.5 L410.2,42.9 L410.8,42.6 L411.1,42.7 L411.7,43 L412.2,42.9 L412.8,43.4 L413.3,43.9 L413.9,43.2 L414.4,44 L414.9,44 L415.4,43.9 L416.2,44.2 L416.7,44 L417.3,44.4 L417.9,44.6 L418.6,45 L419.3,44.7 L419.8,44.6 L420.7,44.7 L421.2,44.8 L422,45.4 L422.8,45.5 L423.4,45 L424.2,45.3 L425,45.4 L425.5,45.4 L426.2,46 L427,45.7 L427.7,45.8 L428.3,46.3 L429.1,46.4 L429.8,46.2 L430.4,45.8 L431.3,46.5 L431.8,46.6 L432.6,46.2 L433.2,46.8 L433.9,46.8 L434.5,46.4 L435.3,46.4 L435.8,46.9 L436.5,46.9 L437.1,46.5 L437.8,46.6 L438.6,46.7 L439.2,46.6 L439.8,46.9 L440.5,46.7 L441.1,47.3 L441.7,46.9 L442.3,47 L442.9,46.8 L443.5,47.1 L443.8,47.4 L444.2,47.1 L444.7,47" stroke-width="1.6" fill="none" stroke="#686868" stroke-linejoin="round"/>
<path d="M385.2,32 L385.3,31.7 L385.4,31.3 L385.6,30.8 L385.8,30.3 L386,29.7 L386.2,29.1 L386.4,28.5 L386.6,28 L386.8,27.5 L387,27 L387.2,26.6" stroke-width="0.9" fill="none" stroke="#555555" stroke-linejoin="round" stroke-linecap="round"/>
<path d="M387.2,26.6 L387.4,26.1 L387.5,25.7 L387.7,25.2 L387.9,24.8 L388.1,24.5 L388.3,24.1 L388.5,23.9 L388.6,23.7 L388.8,23.6 L389,23.6 L389.1,23.7" stroke-width="0.9" fill="none" stroke="#555555" stroke-linejoin="round" stroke-linecap="round"/>
<path d="M389.1,23.7 L389.3,23.8 L389.4,24 L389.5,24.3 L389.7,24.6 L389.8,24.9 L390,25.2 L390.1,25.6 L390.3,26 L390.5,26.4 L390.6,26.8 L390.7,27.2" stroke-width="1.01" fill="none" stroke="#4e4e4e" stroke-linejoin="round" stroke-linecap="round"/>
<path d="M390.7,27.2 L390.9,27.7 L391,28.2 L391.2,28.7 L391.4,29.3 L391.6,29.9 L391.9,30.6 L392.3,31.3 L392.7,32.1 L393.2,32.9 L393.7,34 L394.3,34.8" stroke-width="1.24" fill="none" stroke="#3f3f3f" stroke-linejoin="round" stroke-linecap="round"/>
<path d="M394.3,34.8 L394.9,36 L395.5,36.9 L396.2,38.1 L396.8,39 L397.4,40.1 L398,41.1 L398.6,41.8 L399.2,42.8 L399.8,43.9 L400.3,44.4 L401,45.5" stroke-width="1.47" fill="none" stroke="#313131" stroke-linejoin="round" stroke-linecap="round"/>
<path d="M401,45.5 L401.5,46.4 L402.1,47.4 L402.7,48 L403.1,48.9 L403.8,49.6 L404.4,50.1 L405,50.8 L405.5,51.9 L406,52.4 L406.7,53.2 L407.2,53.5" stroke-width="1.6" fill="none" stroke="#2a2a2a" stroke-linejoin="round" stroke-linecap="round"/>
<path d="M407.2,53.5 L407.6,54.3 L408.3,54.8 L408.9,55.4 L409.6,56.4 L410.2,56.8 L411,57.6 L411.9,58.3 L412.5,59.4 L413.2,59.9 L414.1,60.7 L414.9,61.4" stroke-width="1.6" fill="none" stroke="#2a2a2a" stroke-linejoin="round" stroke-linecap="round"/>
<path d="M414.9,61.4 L415.7,61.9 L416.5,62.4 L417.4,63.3 L418,63.4 L418.8,63.8 L419.5,64.3 L420.3,65.1 L421.1,65.1 L421.9,65.8 L422.7,66 L423.4,66.2" stroke-width="1.6" fill="none" stroke="#2a2a2a" stroke-linejoin="round" stroke-linecap="round"/>
<path d="M423.4,66.2 L424.3,67.2 L424.9,67.5 L425.9,67.7 L426.5,67.9 L427.4,68 L428.2,68.1 L429.1,68.8 L429.8,69.3 L430.6,69 L431.2,69.1 L431.9,69.8" stroke-width="1.6" fill="none" stroke="#2a2a2a" stroke-linejoin="round" stroke-linecap="round"/>
<path d="M431.9,69.8 L432.8,69.6 L433.3,70.1 L434.2,70.5 L434.7,70.6 L435.5,70.7 L436,70.4 L436.8,70.6 L437.2,71 L437.7,71.3 L438.1,70.8 L438.5,71.3" stroke-width="1.6" fill="none" stroke="#2a2a2a" stroke-linejoin="round" stroke-linecap="round"/>
<path d="M385.4,32.3 L385.5,32.1 L385.5,32 L385.6,31.7 L385.7,31.5 L385.8,31.2 L385.9,30.9 L386,30.6 L386.1,30.3 L386.2,30" stroke-width="0.8" fill="none" stroke="#555555" stroke-linejoin="round" stroke-linecap="round"/>
<path d="M386.2,30 L386.4,29.7 L386.5,29.4 L386.6,29.1 L386.7,28.8 L386.8,28.5 L386.9,28.2 L387,28 L387.1,27.8 L387.2,27.5" stroke-width="0.8" fill="none" stroke="#555555" stroke-linejoin="round" stroke-linecap="round"/>
<path d="M387.2,27.5 L387.3,27.3 L387.3,27.1 L387.4,26.8 L387.5,26.6 L387.6,26.4 L387.7,26.1 L387.7,25.9 L387.8,25.7 L387.9,25.6" stroke-width="0.8" fill="none" stroke="#555555" stroke-linejoin="round" stroke-linecap="round"/>
<path d="M387.9,25.6 L388,25.4 L388.1,25.3 L388.1,25.2 L388.2,25.1 L388.3,25 L388.4,25 L388.5,24.9 L388.5,25 L388.6,25" stroke-width="0.8" fill="none" stroke="#555555" stroke-linejoin="round" stroke-linecap="round"/>
<path d="M388.6,25 L388.7,25 L388.8,25.1 L388.8,25.2 L388.9,25.3 L389,25.4 L389.1,25.5 L389.2,25.6 L389.2,25.8 L389.3,26" stroke-width="0.8" fill="none" stroke="#555555" stroke-linejoin="round" stroke-linecap="round"/>
<path d="M389.3,26 L389.4,26.1 L389.5,26.3 L389.6,26.5 L389.7,26.7 L389.8,26.9 L389.8,27.1 L389.9,27.3 L390,27.5 L390.1,27.7" stroke-width="0.8" fill="none" stroke="#555555" stroke-linejoin="round" stroke-linecap="round"/>
<path d="M390.1,27.7 L390.1,28 L390.2,28.2 L390.3,28.5 L390.4,28.8 L390.5,29.1 L390.6,29.5 L390.8,29.9 L390.9,30.3 L391.1,30.8" stroke-width="0.8" fill="none" stroke="#555555" stroke-linejoin="round" stroke-linecap="round"/>
<path d="M391.1,30.8 L391.3,31.3 L391.5,31.9 L391.8,32.5 L392,33.2 L392.3,33.9 L392.6,34.6 L392.9,35.4 L393.2,36.2 L393.5,37" stroke-width="0.8" fill="none" stroke="#555555" stroke-linejoin="round" stroke-linecap="round"/>
<path d="M393.5,37 L393.8,37.8 L394.2,38.7 L394.5,39.6 L394.8,40.4 L395.2,41.3 L395.5,42.1 L395.9,43 L396.2,43.8 L396.5,44.6" stroke-width="0.8" fill="none" stroke="#555555" stroke-linejoin="round" stroke-linecap="round"/>
<path d="M396.5,44.6 L396.9,45.5 L397.2,46.3 L397.6,47.2 L397.9,48 L398.3,48.9 L398.7,49.8 L399.1,50.7 L399.4,51.5 L399.8,52.4" stroke-width="0.8" fill="none" stroke="#555555" stroke-linejoin="round" stroke-linecap="round"/>
<path d="M399.8,52.4 L400.2,53.3 L400.5,54.1 L400.9,54.9 L401.3,55.7 L401.6,56.5 L402,57.3 L402.4,58 L402.7,58.8 L403.1,59.5" stroke-width="0.8" fill="none" stroke="#555555" stroke-linejoin="round" stroke-linecap="round"/>
<path d="M403.1,59.5 L403.4,60.2 L403.8,60.9 L404.1,61.6 L404.5,62.3 L404.8,63 L405.2,63.6 L405.6,64.3 L405.9,64.9 L406.3,65.5" stroke-width="0.8" fill="none" stroke="#555555" stroke-linejoin="round" stroke-linecap="round"/>
<path d="M406.3,65.5 L406.6,66.1 L407,66.7 L407.3,67.3 L407.7,67.9 L408.1,68.5 L408.4,69 L408.8,69.5 L409.1,70.1 L409.5,70.6" stroke-width="0.8" fill="none" stroke="#555555" stroke-linejoin="round" stroke-linecap="round"/>
<path d="M409.5,70.6 L409.9,71 L410.2,71.5 L410.6,72.2 L411,72.5 L411.3,72.9 L411.7,73.3 L412,73.8 L412.5,74.3 L412.8,74.7" stroke-width="0.99" fill="none" stroke="#494949" stroke-linejoin="round" stroke-linecap="round"/>
<path d="M412.8,74.7 L413.2,75.2 L413.4,75.4 L413.9,76.3 L414.2,76.6 L414.5,77.1 L414.8,77.2 L415.3,77.4 L415.5,77.5 L415.8,78.1" stroke-width="1.17" fill="none" stroke="#3e3e3e" stroke-linejoin="round" stroke-linecap="round"/>
<path d="M415.8,78.1 L416.3,78.4 L416.5,78.7 L416.9,79.7 L417.3,79.3 L417.7,80.5 L418,79.8 L418.5,81.1 L418.7,80.5 L419.1,81.3" stroke-width="1.36" fill="none" stroke="#323232" stroke-linejoin="round" stroke-linecap="round"/>
<path d="M419.1,81.3 L419.8,81.8 L420.2,81.6 L420.4,82.6 L421,82.5 L421.5,82.7 L421.7,83.1 L422.2,83.7 L422.8,83.9 L423.4,83.8" stroke-width="1.5" fill="none" stroke="#2a2a2a" stroke-linejoin="round" stroke-linecap="round"/>
<path d="M423.4,83.8 L423.8,83.7 L424.6,84.9 L425.1,84.3 L425.5,85.8 L425.8,84.9 L426.3,85.3 L427.1,85.4 L427.7,86.3 L428.1,86.9" stroke-width="1.5" fill="none" stroke="#2a2a2a" stroke-linejoin="round" stroke-linecap="round"/>
<path d="M428.1,86.9 L428.7,87.3 L429.3,86.9 L429.9,87 L430.5,88.3 L431.1,87.6 L431.7,89.3 L432.1,88 L432.7,89.7 L433.1,87.9" stroke-width="1.5" fill="none" stroke="#2a2a2a" stroke-linejoin="round" stroke-linecap="round"/>
<path d="M433.1,87.9 L433.9,89.5 L434.8,89.1 L435.5,89 L436,88.9 L436.2,89.2 L436.9,90.2 L437.9,89.7 L438.8,90.2 L439,90" stroke-width="1.5" fill="none" stroke="#2a2a2a" stroke-linejoin="round" stroke-linecap="round"/>
<path d="M439,90 L440.2,91.8 L440.5,90 L441.7,90.6 L442.6,91.3 L443.1,91.1 L443.9,91.5 L444.4,92.6 L444.9,92.4 L445.6,92.3" stroke-width="1.5" fill="none" stroke="#2a2a2a" stroke-linejoin="round" stroke-linecap="round"/>
<path d="M445.6,92.3 L446.6,92.9 L447,92.3 L447.9,93.2 L449,92.7 L449.1,91.9 L449.8,92.4 L450.5,92 L451.5,93 L451.8,93.9" stroke-width="1.5" fill="none" stroke="#2a2a2a" stroke-linejoin="round" stroke-linecap="round"/>
<path d="M451.8,93.9 L452.4,93 L453,93.7 L454.1,92.5 L454.6,93.8 L454.9,92.7 L455.6,94 L455.9,93.6 L456.8,93.1 L457.3,94.1" stroke-width="1.5" fill="none" stroke="#2a2a2a" stroke-linejoin="round" stroke-linecap="round"/>
<path d="M457.3,94.1 L457.5,94.1 L458.1,94 L458.9,92.7 L459.4,94.5 L459.4,92.4 L459.7,94.5 L460.1,94.3 L460.6,94 L460.9,92.7" stroke-width="1.5" fill="none" stroke="#2a2a2a" stroke-linejoin="round" stroke-linecap="round"/>
<path d="M460.9,92.7 L461.7,92.6 L461.8,94.4 L462.4,94.3 L462.9,92.5 L462.7,94.1 L463.2,92.5 L463.3,92.9 L463.5,92.6" stroke-width="1.5" fill="none" stroke="#2a2a2a" stroke-linejoin="round" stroke-linecap="round"/>
<path d="M385.6,32.5 L385.6,32.4 L385.7,32.3 L385.7,32.2 L385.8,32 L385.9,31.8 L385.9,31.7 L386,31.5 L386.1,31.3 L386.2,31.1 L386.2,30.9" stroke-width="0.9" fill="none" stroke="#505050" stroke-linejoin="round" stroke-linecap="round"/>
<path d="M386.2,30.9 L386.3,30.7 L386.4,30.5 L386.5,30.3 L386.6,30.1 L386.6,29.9 L386.7,29.7 L386.8,29.5 L386.9,29.3 L386.9,29.2 L387,29" stroke-width="0.9" fill="none" stroke="#505050" stroke-linejoin="round" stroke-linecap="round"/>
<path d="M387,29 L387.1,28.8 L387.1,28.7 L387.2,28.5 L387.2,28.4 L387.3,28.2 L387.3,28.1 L387.4,27.9 L387.4,27.8 L387.5,27.6 L387.5,27.5" stroke-width="0.9" fill="none" stroke="#505050" stroke-linejoin="round" stroke-linecap="round"/>
<path d="M387.5,27.5 L387.6,27.3 L387.6,27.2 L387.7,27.1 L387.7,27 L387.8,26.9 L387.8,26.8 L387.9,26.7 L387.9,26.6 L388,26.5 L388,26.5" stroke-width="0.9" fill="none" stroke="#505050" stroke-linejoin="round" stroke-linecap="round"/>
<path d="M388,26.5 L388,26.5 L388.1,26.4 L388.1,26.4 L388.2,26.4 L388.2,26.4 L388.3,26.4 L388.3,26.4 L388.4,26.5 L388.4,26.5 L388.5,26.5" stroke-width="0.9" fill="none" stroke="#505050" stroke-linejoin="round" stroke-linecap="round"/>
<path d="M388.5,26.5 L388.5,26.6 L388.6,26.7 L388.6,26.7 L388.7,26.8 L388.7,26.9 L388.8,27 L388.8,27.1 L388.9,27.2 L388.9,27.4 L389,27.5" stroke-width="0.9" fill="none" stroke="#505050" stroke-linejoin="round" stroke-linecap="round"/>
<path d="M389,27.5 L389.1,27.6 L389.1,27.8 L389.2,27.9 L389.2,28 L389.3,28.1 L389.3,28.3 L389.4,28.4 L389.4,28.5 L389.5,28.7 L389.5,28.9" stroke-width="0.9" fill="none" stroke="#505050" stroke-linejoin="round" stroke-linecap="round"/>
<path d="M389.5,28.9 L389.6,29.1 L389.6,29.3 L389.7,29.5 L389.8,29.8 L389.9,30.1 L390,30.5 L390.1,30.9 L390.2,31.3 L390.3,31.8 L390.4,32.3" stroke-width="0.9" fill="none" stroke="#505050" stroke-linejoin="round" stroke-linecap="round"/>
<path d="M390.4,32.3 L390.5,32.9 L390.7,33.5 L390.8,34.2 L391,35 L391.2,35.8 L391.4,36.6 L391.6,37.5 L391.7,38.4 L391.9,39.3 L392.1,40.3" stroke-width="0.9" fill="none" stroke="#505050" stroke-linejoin="round" stroke-linecap="round"/>
<path d="M392.1,40.3 L392.4,41.2 L392.6,42.2 L392.8,43.2 L393,44.2 L393.2,45.1 L393.4,46.1 L393.6,47 L393.8,47.9 L394,48.8 L394.2,49.6" stroke-width="0.9" fill="none" stroke="#505050" stroke-linejoin="round" stroke-linecap="round"/>
<path d="M394.2,49.6 L394.4,50.4 L394.6,51.2 L394.8,52 L394.9,52.7 L395.1,53.5 L395.3,54.2 L395.5,55 L395.6,55.7 L395.8,56.4 L396,57.2" stroke-width="0.9" fill="none" stroke="#505050" stroke-linejoin="round" stroke-linecap="round"/>
<path d="M396,57.2 L396.2,57.9 L396.3,58.7 L396.5,59.4 L396.7,60.2 L396.9,60.9 L397.1,61.7 L397.3,62.5 L397.5,63.3 L397.8,64.1 L398,65" stroke-width="0.9" fill="none" stroke="#505050" stroke-linejoin="round" stroke-linecap="round"/>
<path d="M398,65 L398.2,65.9 L398.5,66.8 L398.8,67.6 L399.1,68.7 L399.2,69.6 L399.6,70.7 L399.9,71.6 L400.1,73 L400.4,74 L400.9,74.9" stroke-width="1.1" fill="none" stroke="#4a4a4a" stroke-linejoin="round" stroke-linecap="round"/>
<path d="M400.9,74.9 L401.1,76.3 L401.4,77.3 L401.5,77.8 L402,78.3 L402.4,79.3 L402.6,80.3 L403.1,81.8 L403.4,82.6 L403.6,83.7 L403.7,83.7" stroke-width="1.37" fill="none" stroke="#424242" stroke-linejoin="round" stroke-linecap="round"/>
<path d="M403.7,83.7 L404.3,84.3 L404.6,85.1 L404.4,85.6 L405.1,87.9 L405.2,88 L405.3,89.2 L405.9,88.1 L405.7,89.9 L406,90.8 L406.4,89.9" stroke-width="1.65" fill="none" stroke="#3a3a3a" stroke-linejoin="round" stroke-linecap="round"/>
<path d="M406.4,89.9 L406.9,90.6 L407.2,90.7 L407.8,91.6 L408,91.7 L408.3,94.5 L408.2,92.3 L408.5,94.6 L408.7,94.9 L408.9,95.1 L409.8,95.6" stroke-width="1.93" fill="none" stroke="#313131" stroke-linejoin="round" stroke-linecap="round"/>
<path d="M409.8,95.6 L410.1,95.1 L410.6,95.6 L411.1,99.2 L411.5,98.1 L411.2,98 L412.1,99.1 L412.7,98.1 L412.5,101.7 L413.1,101 L412.8,99.9" stroke-width="2.0" fill="none" stroke="#303030" stroke-linejoin="round" stroke-linecap="round"/>
<path d="M412.8,99.9 L413.4,103.5 L414.6,101.3 L415.1,100.9 L415.1,105.5 L415.1,106 L415.9,102.4 L415.9,104.7 L416.2,106.6 L416.5,107.2 L417,104.2" stroke-width="2.0" fill="none" stroke="#303030" stroke-linejoin="round" stroke-linecap="round"/>
<path d="M417,104.2 L417.8,104.7 L418.1,108.6 L418.6,107.3 L418.1,108 L418.6,109 L419,109 L419.8,108.2 L420.6,107.4 L420.2,112 L420.9,111.8" stroke-width="2.0" fill="none" stroke="#303030" stroke-linejoin="round" stroke-linecap="round"/>
<path d="M420.9,111.8 L422.2,110.1 L421.3,108.1 L423,108.5 L422.7,111.3 L422.4,111.2 L422.8,111.9 L423.9,111.2 L423.7,111.7 L424,110.3 L424.5,115.4" stroke-width="2.0" fill="none" stroke="#303030" stroke-linejoin="round" stroke-linecap="round"/>
<path d="M424.5,115.4 L425.4,115.8 L424.8,116.5 L426.1,115.9 L426.6,115.6 L426.4,116.3 L426.6,113.6 L426.7,114.7 L428,114.4 L429.1,113.4 L428.9,114.8" stroke-width="2.0" fill="none" stroke="#303030" stroke-linejoin="round" stroke-linecap="round"/>
<path d="M428.9,114.8 L429.3,118.6 L429.9,114.3 L429.4,118.1 L431.2,114.9 L430.9,119.4 L431.6,117.5 L432,118.6 L432.7,116 L433.1,118.9 L432.5,117.2" stroke-width="2.0" fill="none" stroke="#303030" stroke-linejoin="round" stroke-linecap="round"/>
<path d="M432.5,117.2 L432.6,121.6 L433.9,118.2 L433.7,118.4 L433.9,119.3 L434.6,124.4 L436.4,123.5 L435.9,122 L436.9,124.9 L437.4,123.5 L436.8,123.7" stroke-width="2.0" fill="none" stroke="#303030" stroke-linejoin="round" stroke-linecap="round"/>
<path d="M436.8,123.7 L438.5,125 L437.6,124.9 L438.6,121.6 L440.2,125.1 L440.3,122 L441,127.4 L441.6,126.4 L442,127 L442,124.9 L442.9,127.4" stroke-width="2.0" fill="none" stroke="#303030" stroke-linejoin="round" stroke-linecap="round"/>
<path d="M442.9,127.4 L443.5,124.5 L444.1,126.3 L444.6,123.8 L445.1,128.3 L444.2,128.9 L444.6,125 L445.5,125.4 L446.1,129.9 L446.9,128.8 L446.8,129.4" stroke-width="2.0" fill="none" stroke="#303030" stroke-linejoin="round" stroke-linecap="round"/>
<path d="M446.8,129.4 L448.1,129 L448.8,130.1 L448.3,125.5 L449.2,130.5 L449.1,129.1 L450.6,130.5 L449.5,128.8 L450,126.5 L452.1,128.7 L452.2,129.1" stroke-width="2.0" fill="none" stroke="#303030" stroke-linejoin="round" stroke-linecap="round"/>
<path d="M452.2,129.1 L452.2,127.8 L452.8,132 L454,128.7 L453.6,128.8 L455.4,130.1 L456,132.7 L455.6,132.1 L456.1,133.2 L457.1,129.9 L459.2,130.7" stroke-width="2.0" fill="none" stroke="#303030" stroke-linejoin="round" stroke-linecap="round"/>
<path d="M459.2,130.7 L458.5,134.3 L459.9,134.5 L460.1,132.2 L461.7,132.5 L462.3,130.6 L462.5,130.6 L462.4,129.7 L462.2,135.9 L463.1,135.2 L463,132.4" stroke-width="2.0" fill="none" stroke="#303030" stroke-linejoin="round" stroke-linecap="round"/>
<path d="M385.6,32.5 L385.6,32.4 L385.7,32.3 L385.7,32.2 L385.8,32 L385.9,31.8 L385.9,31.7 L386,31.5 L386.1,31.3 L386.2,31.1 L386.2,30.9" stroke-width="0.9" fill="none" stroke="#505050" stroke-linejoin="round" stroke-linecap="round"/>
<path d="M386.2,30.9 L386.3,30.7 L386.4,30.5 L386.5,30.3 L386.6,30.1 L386.6,29.9 L386.7,29.7 L386.8,29.5 L386.9,29.3 L386.9,29.2 L387,29" stroke-width="0.9" fill="none" stroke="#505050" stroke-linejoin="round" stroke-linecap="round"/>
<path d="M387,29 L387.1,28.8 L387.1,28.7 L387.2,28.5 L387.2,28.4 L387.3,28.2 L387.3,28.1 L387.4,27.9 L387.4,27.8 L387.5,27.6 L387.5,27.5" stroke-width="0.9" fill="none" stroke="#505050" stroke-linejoin="round" stroke-linecap="round"/>
<path d="M387.5,27.5 L387.6,27.3 L387.6,27.2 L387.7,27.1 L387.7,27 L387.8,26.9 L387.8,26.8 L387.9,26.7 L387.9,26.6 L388,26.5 L388,26.5" stroke-width="0.9" fill="none" stroke="#505050" stroke-linejoin="round" stroke-linecap="round"/>
<path d="M388,26.5 L388,26.5 L388.1,26.4 L388.1,26.4 L388.2,26.4 L388.2,26.4 L388.3,26.4 L388.3,26.4 L388.4,26.5 L388.4,26.5 L388.5,26.5" stroke-width="0.9" fill="none" stroke="#505050" stroke-linejoin="round" stroke-linecap="round"/>
<path d="M388.5,26.5 L388.5,26.6 L388.6,26.7 L388.6,26.7 L388.7,26.8 L388.7,26.9 L388.8,27 L388.8,27.1 L388.9,27.2 L388.9,27.4 L389,27.5" stroke-width="0.9" fill="none" stroke="#505050" stroke-linejoin="round" stroke-linecap="round"/>
<path d="M389,27.5 L389.1,27.6 L389.1,27.8 L389.2,27.9 L389.2,28 L389.3,28.1 L389.3,28.3 L389.4,28.4 L389.4,28.5 L389.5,28.7 L389.5,28.9" stroke-width="0.9" fill="none" stroke="#505050" stroke-linejoin="round" stroke-linecap="round"/>
<path d="M389.5,28.9 L389.6,29.1 L389.6,29.3 L389.7,29.5 L389.8,29.8 L389.9,30.1 L390,30.5 L390.1,30.9 L390.2,31.3 L390.3,31.8 L390.4,32.3" stroke-width="0.9" fill="none" stroke="#505050" stroke-linejoin="round" stroke-linecap="round"/>
<path d="M390.4,32.3 L390.5,32.9 L390.7,33.5 L390.8,34.2 L391,35 L391.2,35.8 L391.4,36.6 L391.6,37.5 L391.7,38.4 L391.9,39.3 L392.1,40.3" stroke-width="0.9" fill="none" stroke="#505050" stroke-linejoin="round" stroke-linecap="round"/>
<path d="M392.1,40.3 L392.4,41.2 L392.6,42.2 L392.8,43.2 L393,44.2 L393.2,45.1 L393.4,46.1 L393.6,47 L393.8,47.9 L394,48.8 L394.2,49.6" stroke-width="0.9" fill="none" stroke="#505050" stroke-linejoin="round" stroke-linecap="round"/>
<path d="M394.2,49.6 L394.4,50.4 L394.6,51.2 L394.8,52 L394.9,52.7 L395.1,53.5 L395.3,54.2 L395.5,55 L395.6,55.7 L395.8,56.4 L396,57.2" stroke-width="0.9" fill="none" stroke="#505050" stroke-linejoin="round" stroke-linecap="round"/>
<path d="M396,57.2 L396.2,57.9 L396.3,58.7 L396.5,59.4 L396.7,60.2 L396.9,60.9 L397.1,61.7 L397.3,62.5 L397.5,63.3 L397.8,64.1 L398,65" stroke-width="0.9" fill="none" stroke="#505050" stroke-linejoin="round" stroke-linecap="round"/>
<path d="M398,65 L398.2,65.9 L398.5,66.8 L398.8,67.7 L399,68.7 L399.3,69.7 L399.6,70.7 L399.9,71.7 L400.2,72.8 L400.5,73.8 L400.8,74.8" stroke-width="0.95" fill="none" stroke="#4b4b4b" stroke-linejoin="round" stroke-linecap="round"/>
<path d="M400.8,74.8 L401.1,75.9 L401.4,76.9 L401.7,77.9 L402,78.9 L402.3,79.8 L402.6,80.8 L402.9,81.7 L403.2,82.6 L403.5,83.4 L403.8,84.2" stroke-width="1.03" fill="none" stroke="#454545" stroke-linejoin="round" stroke-linecap="round"/>
<path d="M403.8,84.2 L404.1,85 L404.4,85.6 L404.6,86.5 L405,87.2 L405.3,87.6 L405.5,88.2 L405.8,89.1 L405.9,89.1 L406.2,90.1 L406.5,90.1" stroke-width="1.11" fill="none" stroke="#3f3f3f" stroke-linejoin="round" stroke-linecap="round"/>
<path d="M406.5,90.1 L407,91.4 L407.1,91.1 L407.6,92.2 L407.6,92.4 L408.1,93.7 L408.3,93.9 L408.5,93.8 L409.1,94.5 L409.1,95.4 L409.4,95.2" stroke-width="1.18" fill="none" stroke="#393939" stroke-linejoin="round" stroke-linecap="round"/>
<path d="M409.4,95.2 L409.9,96.5 L410.4,97.3 L410.6,96.5 L411.2,97 L411.4,98.4 L411.9,99.7 L412,100.1 L412.7,100.2 L412.6,101.9 L413.4,100.1" stroke-width="1.2" fill="none" stroke="#383838" stroke-linejoin="round" stroke-linecap="round"/>
<path d="M413.4,100.1 L413.5,103.3 L413.9,102.1 L414.8,104 L415.1,104.2 L414.9,102.6 L416.2,105.5 L415.6,103.3 L416.2,107 L416.6,106.5 L417.8,106.8" stroke-width="1.2" fill="none" stroke="#383838" stroke-linejoin="round" stroke-linecap="round"/>
<path d="M417.8,106.8 L418.2,105.8 L417.7,105.2 L418.8,105.9 L419.4,108.8 L418.8,109.6 L419.2,108.6 L419.5,110.2 L420.9,111.2 L420.1,111.2 L421.2,111.4" stroke-width="1.2" fill="none" stroke="#383838" stroke-linejoin="round" stroke-linecap="round"/>
<path d="M421.2,111.4 L421.5,110.8 L422.1,112 L421.7,108.5 L422.8,110 L422.9,108.8 L423.9,109.2 L424.4,113.7 L424.2,110.2 L424.9,111 L424.9,110.8" stroke-width="1.2" fill="none" stroke="#383838" stroke-linejoin="round" stroke-linecap="round"/>
<path d="M424.9,110.8 L426.2,113.6 L425.5,111.3 L426.6,116.1 L427.2,111.9 L426.6,113.5 L427.7,112.8 L427.8,118.5 L428.5,112.5 L427.5,113.5 L429.1,117.1" stroke-width="1.2" fill="none" stroke="#383838" stroke-linejoin="round" stroke-linecap="round"/>
<path d="M429.1,117.1 L429.1,116.5 L429.3,117.9 L430.2,120.3 L430.7,119.8 L431.5,120.5 L431.5,115.3 L431.8,121.2 L431.7,121.7 L431.6,122.5 L432.6,121.2" stroke-width="1.2" fill="none" stroke="#383838" stroke-linejoin="round" stroke-linecap="round"/>
<path d="M432.6,121.2 L432.6,118.8 L433.3,119.2 L433.2,120.4 L435.5,122.1 L435.8,123.2 L436.1,125 L436.4,120.4 L435.9,121.7 L435.9,120.8 L438.2,125.7" stroke-width="1.2" fill="none" stroke="#383838" stroke-linejoin="round" stroke-linecap="round"/>
<path d="M438.2,125.7 L437.5,125 L438.9,126.1 L439.5,124 L438.5,126.3 L439.5,125.2 L440.1,124.8 L441.8,122.5 L441.4,126.1 L441.9,128.3 L442.1,128.4" stroke-width="1.2" fill="none" stroke="#383838" stroke-linejoin="round" stroke-linecap="round"/>
<path d="M442.1,128.4 L443.2,129 L442.4,124.1 L443.3,129 L443.2,124.9 L445.1,130 L444.5,126.5 L446,128.4 L446.6,129 L446,125.8 L446.1,128.9" stroke-width="1.2" fill="none" stroke="#383838" stroke-linejoin="round" stroke-linecap="round"/>
<path d="M446.1,128.9 L446.9,126.2 L448.9,128.9 L448.7,129.2 L449.2,129.6 L449,125.5 L449.1,125.4 L450.2,126.4 L450.2,129 L452.4,130.5 L451.5,131.2" stroke-width="1.2" fill="none" stroke="#383838" stroke-linejoin="round" stroke-linecap="round"/>
<path d="M451.5,131.2 L451.9,126.9 L452.7,129.2 L454.1,129.6 L454.8,127.5 L455.9,129.4 L456.4,127.5 L457,129.1 L457.7,133.2 L458,129.9 L457.4,129.5" stroke-width="1.2" fill="none" stroke="#383838" stroke-linejoin="round" stroke-linecap="round"/>
<path d="M457.4,129.5 L459.8,129.5 L460,132.6 L460.6,130 L460.1,129.7 L462.4,131.8 L462.2,133.2 L461.8,130 L461.8,135.5 L462.4,136.3 L463.2,134.8" stroke-width="1.2" fill="none" stroke="#383838" stroke-linejoin="round" stroke-linecap="round"/>
<circle cx="438.5" cy="71.3" r="1.3" fill="#222" stroke="none"/>
<text x="504.6" y="31.8" font-size="9" text-anchor="end" textLength="50.5" lengthAdjust="spacingAndGlyphs">ERp57 (nM)</text>
<text x="504.6" y="51" font-size="9" text-anchor="end" textLength="49.5" lengthAdjust="spacingAndGlyphs">oo-oo (200)</text>
<text x="504.6" y="77.2" font-size="9" text-anchor="end" textLength="49.5" lengthAdjust="spacingAndGlyphs">oo-oo (100)</text>
<text x="504.6" y="96.5" font-size="9" text-anchor="end" textLength="37" lengthAdjust="spacingAndGlyphs">baseline</text>
<text x="504.6" y="134" font-size="9" text-anchor="end" textLength="38.5" lengthAdjust="spacingAndGlyphs">WT (100)</text>
</g>
<g id="panelC">
<text x="1.5" y="225.8" font-size="12.6">C</text>
<text x="48" y="225" font-size="10" text-anchor="middle" font-weight="normal" class="n">i</text>
<line x1="43.2" y1="240" x2="43.2" y2="400.2" stroke-width="1.6" stroke="#000"/>
<line x1="42.400000000000006" y1="399.5" x2="170.5" y2="399.5" stroke-width="1.5" stroke="#000"/>
<text x="40.2" y="399.9" font-size="9.2" text-anchor="end">0</text>
<line x1="43.2" y1="367.7" x2="47.2" y2="367.7" stroke-width="1.1" stroke="#000"/>
<text x="40.2" y="371" font-size="9.2" text-anchor="end">50</text>
<line x1="43.2" y1="335.9" x2="47.2" y2="335.9" stroke-width="1.1" stroke="#000"/>
<text x="40.2" y="339.2" font-size="9.2" text-anchor="end">100</text>
<line x1="43.2" y1="304.2" x2="47.2" y2="304.2" stroke-width="1.1" stroke="#000"/>
<text x="40.2" y="307.5" font-size="9.2" text-anchor="end">150</text>
<line x1="43.2" y1="272.4" x2="47.2" y2="272.4" stroke-width="1.1" stroke="#000"/>
<text x="40.2" y="275.7" font-size="9.2" text-anchor="end">200</text>
<line x1="43.2" y1="240.6" x2="47.2" y2="240.6" stroke-width="1.1" stroke="#000"/>
<text x="40.2" y="243.9" font-size="9.2" text-anchor="end">250</text>
<text x="15.6" y="307" font-size="10.4" text-anchor="middle" transform="rotate(-90 15.6 307)" textLength="77" lengthAdjust="spacingAndGlyphs">% Aggregation</text>
<rect x="62" y="335.8" width="16" height="63.69999999999999" fill="#fff" stroke="#000" stroke-width="1.4"/>
<line x1="110" y1="255.5" x2="110" y2="271" stroke-width="1.4" stroke="#000"/>
<line x1="108" y1="255.5" x2="112" y2="255.5" stroke-width="1.4" stroke="#000"/>
<rect x="102" y="270.8" width="16" height="128.7" fill="#fff" stroke="#000" stroke-width="1.4"/>
<line x1="150" y1="383.8" x2="150" y2="389.3" stroke-width="1.4" stroke="#000"/>
<line x1="148" y1="383.8" x2="152" y2="383.8" stroke-width="1.4" stroke="#000"/>
<rect x="141.8" y="389.3" width="16.2" height="10.199999999999989" fill="#fff" stroke="#000" stroke-width="1.4"/>
<path d="M63.2,235.5 Q63.2,229.4 69.2,229.4 L141.6,229.4 Q147.6,229.4 147.6,235.5" stroke-width="1.5" fill="none" stroke="#000"/>
<path d="M65,254 Q65,249.4 70,249.4 L104.9,249.4 Q109.9,249.4 109.9,254" stroke-width="1.5" fill="none" stroke="#000"/>
<text x="82.5" y="223.8" font-size="9.2"><tspan font-style="italic">P</tspan> &lt; 0.05</text>
<text x="68.8" y="245" font-size="9.2"><tspan font-style="italic">P</tspan> &lt; 0.05</text>
<text x="64.6" y="423.9" font-size="9.0" text-anchor="middle" transform="rotate(-64.5 64.6 423.9)" textLength="34.5" lengthAdjust="spacingAndGlyphs" class="r">baseline</text>
<text x="104.4" y="414.6" font-size="9.0" text-anchor="middle" transform="rotate(-66.5 104.4 414.6)" textLength="11.5" lengthAdjust="spacingAndGlyphs" class="r">WT</text>
<text x="113.8" y="420" font-size="9.0" text-anchor="middle" transform="rotate(-66.5 113.8 420)" textLength="26" lengthAdjust="spacingAndGlyphs" class="r">ERp57</text>
<text x="142.2" y="420.4" font-size="9.0" text-anchor="middle" transform="rotate(-66.5 142.2 420.4)" textLength="27" lengthAdjust="spacingAndGlyphs" class="r">ERp57</text>
<text x="154.2" y="426.6" font-size="9.0" text-anchor="middle" transform="rotate(-66.5 154.2 426.6)" textLength="28.6" lengthAdjust="spacingAndGlyphs" class="r">(oo-oo)</text>
<path d="M50,435 Q51,443 56,443 L95.85,443 Q100.35,443 100.85,447.8 Q101.35,443 105.85,443 L145.7,443 Q150.7,443 151.7,435" stroke-width="1.5" fill="none" stroke="#000"/>
<text x="100" y="456.5" font-size="9.2" text-anchor="middle">Collagen</text>
<text x="227.5" y="225" font-size="10" text-anchor="middle" font-weight="normal" class="n">ii</text>
<line x1="222.4" y1="239.7" x2="222.4" y2="399.59999999999997" stroke-width="1.6" stroke="#000"/>
<line x1="221.6" y1="398.9" x2="349.5" y2="398.9" stroke-width="1.5" stroke="#000"/>
<text x="218.20000000000002" y="401.3" font-size="9.2" text-anchor="end">0</text>
<line x1="222.4" y1="359.2" x2="226.4" y2="359.2" stroke-width="1.1" stroke="#000"/>
<text x="218.20000000000002" y="362.6" font-size="9.2" text-anchor="end">50</text>
<line x1="222.4" y1="319.6" x2="226.4" y2="319.6" stroke-width="1.1" stroke="#000"/>
<text x="218.20000000000002" y="322.9" font-size="9.2" text-anchor="end">100</text>
<line x1="222.4" y1="279.9" x2="226.4" y2="279.9" stroke-width="1.1" stroke="#000"/>
<text x="218.20000000000002" y="283.2" font-size="9.2" text-anchor="end">150</text>
<line x1="222.4" y1="240.3" x2="226.4" y2="240.3" stroke-width="1.1" stroke="#000"/>
<text x="218.20000000000002" y="243.6" font-size="9.2" text-anchor="end">200</text>
<text x="201.2" y="310.5" font-size="10.6" text-anchor="middle" transform="rotate(-90 201.2 310.5)" textLength="91" lengthAdjust="spacingAndGlyphs">% Aggregation</text>
<rect x="243" y="319.3" width="15.5" height="79.59999999999997" fill="#fff" stroke="#000" stroke-width="1.4"/>
<line x1="290.8" y1="264.8" x2="290.8" y2="270" stroke-width="1.4" stroke="#000"/>
<line x1="288.8" y1="264.8" x2="292.8" y2="264.8" stroke-width="1.4" stroke="#000"/>
<rect x="283" y="270" width="15.6" height="128.89999999999998" fill="#fff" stroke="#000" stroke-width="1.4"/>
<line x1="330.2" y1="383" x2="330.2" y2="385.4" stroke-width="1.4" stroke="#000"/>
<line x1="328" y1="383" x2="332.4" y2="383" stroke-width="1.4" stroke="#000"/>
<rect x="321.8" y="385.4" width="16.8" height="13.5" fill="#fff" stroke="#000" stroke-width="1.4"/>
<path d="M245.2,246 Q245.2,240.2 251.2,240.2 L323.2,240.2 Q329.2,240.2 329.2,246" stroke-width="1.5" fill="none" stroke="#000"/>
<path d="M247,263.5 Q247,258.6 252,258.6 L286.5,258.6 Q291.5,258.6 291.5,263.5" stroke-width="1.5" fill="none" stroke="#000"/>
<text x="265.4" y="234.6" font-size="9.2"><tspan font-style="italic">P</tspan> &lt; 0.05</text>
<text x="248.5" y="254.6" font-size="9.2"><tspan font-style="italic">P</tspan> &lt; 0.05</text>
<text x="244.6" y="423.9" font-size="9.0" text-anchor="middle" transform="rotate(-64.5 244.6 423.9)" textLength="34.5" lengthAdjust="spacingAndGlyphs" class="r">baseline</text>
<text x="284.4" y="414.6" font-size="9.0" text-anchor="middle" transform="rotate(-66.5 284.4 414.6)" textLength="11.5" lengthAdjust="spacingAndGlyphs" class="r">WT</text>
<text x="293.8" y="420" font-size="9.0" text-anchor="middle" transform="rotate(-66.5 293.8 420)" textLength="26" lengthAdjust="spacingAndGlyphs" class="r">ERp57</text>
<text x="322.2" y="420.4" font-size="9.0" text-anchor="middle" transform="rotate(-66.5 322.2 420.4)" textLength="27" lengthAdjust="spacingAndGlyphs" class="r">ERp57</text>
<text x="334.2" y="426.6" font-size="9.0" text-anchor="middle" transform="rotate(-66.5 334.2 426.6)" textLength="28.6" lengthAdjust="spacingAndGlyphs" class="r">(oo-oo)</text>
<path d="M230,435.5 Q231,443.6 236,443.6 L275.8,443.6 Q280.3,443.6 280.8,448.8 Q281.3,443.6 285.8,443.6 L325.6,443.6 Q330.6,443.6 331.6,435.5" stroke-width="1.5" fill="none" stroke="#000"/>
<text x="280.6" y="456.8" font-size="9.4" text-anchor="middle" textLength="36.3" lengthAdjust="spacingAndGlyphs">SFLLRN</text>
</g>
<g id="panelD">
<text x="2" y="502.7" font-size="12.6">D</text>
<line x1="38.6" y1="513.3" x2="38.6" y2="647.3" stroke-width="1.15" stroke="#222"/>
<line x1="38.1" y1="646.8" x2="267.8" y2="646.8" stroke-width="1.15" stroke="#222"/>
<text x="34.4" y="648.8" font-size="9.8" text-anchor="end">0</text>
<line x1="38.6" y1="613.5" x2="44.6" y2="613.5" stroke-width="1.0" stroke="#333"/>
<text x="32.9" y="616.9" font-size="9.8" text-anchor="end" textLength="9" lengthAdjust="spacingAndGlyphs">10</text>
<line x1="38.6" y1="580.3" x2="44.6" y2="580.3" stroke-width="1.0" stroke="#333"/>
<text x="32.9" y="583.7" font-size="9.8" text-anchor="end" textLength="9" lengthAdjust="spacingAndGlyphs">20</text>
<line x1="38.6" y1="547" x2="44.6" y2="547" stroke-width="1.0" stroke="#333"/>
<text x="32.9" y="550.4" font-size="9.8" text-anchor="end" textLength="9" lengthAdjust="spacingAndGlyphs">30</text>
<line x1="38.6" y1="513.8" x2="44.6" y2="513.8" stroke-width="1.0" stroke="#333"/>
<text x="32.9" y="517.2" font-size="9.8" text-anchor="end" textLength="9" lengthAdjust="spacingAndGlyphs">40</text>
<text x="15" y="580.2" font-size="10.5" text-anchor="middle" transform="rotate(-90 15 580.2)" textLength="123.3" lengthAdjust="spacingAndGlyphs">Tail bleeding time (min)</text>
<path d="M94.2,576.8 L96.3,574.7 L98.4,576.8 L96.3,578.9z" stroke="#000" stroke-width="1.3" stroke-linejoin="round" fill="#000"/>
<path d="M94.2,605.4 L96.3,603.3 L98.4,605.4 L96.3,607.5z" stroke="#000" stroke-width="1.3" stroke-linejoin="round" fill="#000"/>
<path d="M94.2,610.7 L96.3,608.6 L98.4,610.7 L96.3,612.8z" stroke="#000" stroke-width="1.3" stroke-linejoin="round" fill="#000"/>
<path d="M94.2,615.2 L96.3,613.1 L98.4,615.2 L96.3,617.3z" stroke="#000" stroke-width="1.3" stroke-linejoin="round" fill="#000"/>
<path d="M91.5,618.8 L93.6,616.7 L95.7,618.8 L93.6,620.9z" stroke="#000" stroke-width="1.3" stroke-linejoin="round" fill="#000"/>
<path d="M98.1,618.8 L100.2,616.7 L102.3,618.8 L100.2,620.9z" stroke="#000" stroke-width="1.3" stroke-linejoin="round" fill="#000"/>
<path d="M91.2,624.1 L93.3,622 L95.4,624.1 L93.3,626.2z" stroke="#000" stroke-width="1.3" stroke-linejoin="round" fill="#000"/>
<path d="M97.9,624.1 L100,622 L102.1,624.1 L100,626.2z" stroke="#000" stroke-width="1.3" stroke-linejoin="round" fill="#000"/>
<path d="M94.2,629.4 L96.3,627.3 L98.4,629.4 L96.3,631.5z" stroke="#000" stroke-width="1.3" stroke-linejoin="round" fill="#000"/>
<path d="M91.2,634.2 L93.3,632.1 L95.4,634.2 L93.3,636.3z" stroke="#000" stroke-width="1.3" stroke-linejoin="round" fill="#000"/>
<path d="M98.1,634.2 L100.2,632.1 L102.3,634.2 L100.2,636.3z" stroke="#000" stroke-width="1.3" stroke-linejoin="round" fill="#000"/>
<path d="M94.5,633.5 L96.6,631.4 L98.7,633.5 L96.6,635.6z" stroke="#000" stroke-width="1.3" stroke-linejoin="round" fill="#000"/>
<path d="M94.7,640 L96.8,637.9 L98.9,640 L96.8,642.1z" stroke="#000" stroke-width="1.3" stroke-linejoin="round" fill="#000"/>
<path d="M94.7,643.8 L96.8,641.7 L98.9,643.8 L96.8,645.9z" stroke="#000" stroke-width="1.3" stroke-linejoin="round" fill="#000"/>
<line x1="84" y1="620.4" x2="106.5" y2="620.4" stroke-width="1" stroke="#000"/>
<path d="M161.5,601 L163.6,598.9 L165.7,601 L163.6,603.1z" stroke="#000" stroke-width="1.3" stroke-linejoin="round" fill="#000"/>
<path d="M161.5,605.9 L163.6,603.8 L165.7,605.9 L163.6,608z" stroke="#000" stroke-width="1.3" stroke-linejoin="round" fill="#000"/>
<path d="M161.5,615.2 L163.6,613.1 L165.7,615.2 L163.6,617.3z" stroke="#000" stroke-width="1.3" stroke-linejoin="round" fill="#000"/>
<path d="M161.5,619.8 L163.6,617.7 L165.7,619.8 L163.6,621.9z" stroke="#000" stroke-width="1.3" stroke-linejoin="round" fill="#000"/>
<path d="M159.1,624.1 L161.2,622 L163.3,624.1 L161.2,626.2z" stroke="#000" stroke-width="1.3" stroke-linejoin="round" fill="#000"/>
<path d="M165.3,624.1 L167.4,622 L169.5,624.1 L167.4,626.2z" stroke="#000" stroke-width="1.3" stroke-linejoin="round" fill="#000"/>
<path d="M162.4,628.5 L164.5,626.4 L166.6,628.5 L164.5,630.6z" stroke="#000" stroke-width="1.3" stroke-linejoin="round" fill="#000"/>
<path d="M162.4,633.8 L164.5,631.7 L166.6,633.8 L164.5,635.9z" stroke="#000" stroke-width="1.3" stroke-linejoin="round" fill="#000"/>
<path d="M159.1,637.6 L161.2,635.5 L163.3,637.6 L161.2,639.7z" stroke="#000" stroke-width="1.3" stroke-linejoin="round" fill="#000"/>
<path d="M165.3,637.6 L167.4,635.5 L169.5,637.6 L167.4,639.7z" stroke="#000" stroke-width="1.3" stroke-linejoin="round" fill="#000"/>
<path d="M162.3,637 L164.4,634.9 L166.5,637 L164.4,639.1z" stroke="#000" stroke-width="1.3" stroke-linejoin="round" fill="#000"/>
<path d="M162.4,641 L164.5,638.9 L166.6,641 L164.5,643.1z" stroke="#000" stroke-width="1.3" stroke-linejoin="round" fill="#000"/>
<path d="M162.4,644.3 L164.5,642.2 L166.6,644.3 L164.5,646.4z" stroke="#000" stroke-width="1.3" stroke-linejoin="round" fill="#000"/>
<line x1="153.5" y1="626.3" x2="176" y2="626.3" stroke-width="1" stroke="#000"/>
<path d="M207.9,548.5 L210,546.4 L212.1,548.5 L210,550.6z" stroke="#000" stroke-width="1.3" stroke-linejoin="round" fill="#000"/>
<path d="M213.4,548.5 L215.5,546.4 L217.6,548.5 L215.5,550.6z" stroke="#000" stroke-width="1.3" stroke-linejoin="round" fill="#000"/>
<path d="M218.9,548.5 L221,546.4 L223.1,548.5 L221,550.6z" stroke="#000" stroke-width="1.3" stroke-linejoin="round" fill="#000"/>
<path d="M224.4,548.5 L226.5,546.4 L228.6,548.5 L226.5,550.6z" stroke="#000" stroke-width="1.3" stroke-linejoin="round" fill="#000"/>
<path d="M229.9,548.5 L232,546.4 L234.1,548.5 L232,550.6z" stroke="#000" stroke-width="1.3" stroke-linejoin="round" fill="#000"/>
<path d="M235.4,548.5 L237.5,546.4 L239.6,548.5 L237.5,550.6z" stroke="#000" stroke-width="1.3" stroke-linejoin="round" fill="#000"/>
<path d="M240.9,548.5 L243,546.4 L245.1,548.5 L243,550.6z" stroke="#000" stroke-width="1.3" stroke-linejoin="round" fill="#000"/>
<path d="M246.4,548.5 L248.5,546.4 L250.6,548.5 L248.5,550.6z" stroke="#000" stroke-width="1.3" stroke-linejoin="round" fill="#000"/>
<path d="M251.9,548.5 L254,546.4 L256.1,548.5 L254,550.6z" stroke="#000" stroke-width="1.3" stroke-linejoin="round" fill="#000"/>
<path d="M229.7,554.6 L231.8,552.5 L233.9,554.6 L231.8,556.7z" stroke="#000" stroke-width="1.3" stroke-linejoin="round" fill="#000"/>
<path d="M229.7,564.2 L231.8,562.1 L233.9,564.2 L231.8,566.3z" stroke="#000" stroke-width="1.3" stroke-linejoin="round" fill="#000"/>
<path d="M229.7,576.2 L231.8,574.1 L233.9,576.2 L231.8,578.3z" stroke="#000" stroke-width="1.3" stroke-linejoin="round" fill="#000"/>
<path d="M229.7,591.8 L231.8,589.7 L233.9,591.8 L231.8,593.9z" stroke="#000" stroke-width="1.3" stroke-linejoin="round" fill="#000"/>
<path d="M229.7,601 L231.8,598.9 L233.9,601 L231.8,603.1z" stroke="#000" stroke-width="1.3" stroke-linejoin="round" fill="#000"/>
<path d="M227.1,605.7 L229.2,603.6 L231.3,605.7 L229.2,607.8z" stroke="#000" stroke-width="1.3" stroke-linejoin="round" fill="#000"/>
<path d="M232.5,605.7 L234.6,603.6 L236.7,605.7 L234.6,607.8z" stroke="#000" stroke-width="1.3" stroke-linejoin="round" fill="#000"/>
<path d="M227.1,610.3 L229.2,608.2 L231.3,610.3 L229.2,612.4z" stroke="#000" stroke-width="1.3" stroke-linejoin="round" fill="#000"/>
<path d="M232.5,610.3 L234.6,608.2 L236.7,610.3 L234.6,612.4z" stroke="#000" stroke-width="1.3" stroke-linejoin="round" fill="#000"/>
<path d="M229.7,615 L231.8,612.9 L233.9,615 L231.8,617.1z" stroke="#000" stroke-width="1.3" stroke-linejoin="round" fill="#000"/>
<line x1="220.8" y1="571.2" x2="243" y2="571.2" stroke-width="1" stroke="#000"/>
<path d="M95.4,518.3 Q95.4,510.8 104.4,510.8 L223,510.8 Q232,510.8 232,518.3" stroke-width="1.5" fill="none" stroke="#000"/>
<path d="M169,538 Q169,533.3 173,533.3 L228,533.3 Q232,533.3 232,538" stroke-width="1.5" fill="none" stroke="#000"/>
<text x="167" y="505.5" font-size="9.2" text-anchor="middle"><tspan font-style="italic">P</tspan> = 0.013</text>
<text x="202" y="528" font-size="9.2" text-anchor="middle"><tspan font-style="italic">P</tspan> = 0.004</text>
<text x="88.5" y="666.9" font-size="9.0" text-anchor="middle" transform="rotate(-64 88.5 666.9)" textLength="17.5" lengthAdjust="spacingAndGlyphs" class="r">PBS</text>
<text x="98.2" y="672.2" font-size="9.0" text-anchor="middle" transform="rotate(-64 98.2 672.2)" textLength="31.3" lengthAdjust="spacingAndGlyphs" class="r">Control</text>
<text x="160" y="666.9" font-size="9.0" text-anchor="middle" transform="rotate(-66 160 666.9)" textLength="12" lengthAdjust="spacingAndGlyphs" class="r">WT</text>
<text x="168.7" y="671.9" font-size="9.0" text-anchor="middle" transform="rotate(-66 168.7 671.9)" textLength="28" lengthAdjust="spacingAndGlyphs" class="r">ERp57</text>
<text x="228" y="666.5" font-size="9.0" text-anchor="middle" transform="rotate(-62 228 666.5)" textLength="27" lengthAdjust="spacingAndGlyphs" class="r">ERp57</text>
<text x="238.8" y="671.6" font-size="9.0" text-anchor="middle" transform="rotate(-62 238.8 671.6)" textLength="28" lengthAdjust="spacingAndGlyphs" class="r">(oo-oo)</text>
</g>
<g id="panelE">
<text x="282.8" y="503.2" font-size="12.6">E</text>
<text x="320.8" y="502" font-size="10" text-anchor="middle" font-weight="normal" class="n">i</text>
<line x1="306.5" y1="517.5" x2="306.5" y2="646.0" stroke-width="1.4" stroke="#000"/>
<line x1="305.9" y1="645.4" x2="395" y2="645.4" stroke-width="1.4" stroke="#000"/>
<text x="300.9" y="646.9" font-size="9.4" text-anchor="end">0</text>
<line x1="306.5" y1="613.5" x2="310.0" y2="613.5" stroke-width="1.1" stroke="#000"/>
<text x="303.2" y="616.8" font-size="9.4" text-anchor="end">10</text>
<line x1="306.5" y1="581.7" x2="310.0" y2="581.7" stroke-width="1.1" stroke="#000"/>
<text x="303.2" y="585" font-size="9.4" text-anchor="end">20</text>
<line x1="306.5" y1="549.9" x2="310.0" y2="549.9" stroke-width="1.1" stroke="#000"/>
<text x="303.2" y="553.1" font-size="9.4" text-anchor="end">30</text>
<line x1="306.5" y1="518" x2="310.0" y2="518" stroke-width="1.1" stroke="#000"/>
<text x="303.2" y="521.3" font-size="9.4" text-anchor="end">40</text>
<text x="285.5" y="578.3" font-size="8.8" text-anchor="middle" transform="rotate(-90 285.5 578.3)" textLength="118.5" lengthAdjust="spacingAndGlyphs">Mean fluorescent intensity</text>
<line x1="336" y1="522.5" x2="336" y2="528" stroke-width="1.4" stroke="#000"/>
<line x1="334" y1="522.5" x2="338" y2="522.5" stroke-width="1.4" stroke="#000"/>
<rect x="328.8" y="528" width="14.2" height="117.39999999999998" fill="#fff" stroke="#000" stroke-width="1.4"/>
<line x1="371" y1="556" x2="371" y2="560" stroke-width="1.4" stroke="#000"/>
<line x1="369" y1="556" x2="373" y2="556" stroke-width="1.4" stroke="#000"/>
<rect x="363.8" y="560" width="14.2" height="85.39999999999998" fill="#fff" stroke="#000" stroke-width="1.4"/>
<path d="M336.3,518.5 Q336.3,515.5 339.3,515.5 L372.5,515.5 Q375.5,515.5 375.5,518.5" stroke-width="1.5" fill="none" stroke="#000"/>
<text x="358.4" y="512" font-size="9.2" text-anchor="middle"><tspan font-style="italic">P</tspan> = 0.015</text>
<text x="328.4" y="664.3" font-size="9.0" text-anchor="middle" transform="rotate(-61 328.4 664.3)" textLength="16.5" lengthAdjust="spacingAndGlyphs" class="r">PBS</text>
<text x="338.2" y="670.4" font-size="9.0" text-anchor="middle" transform="rotate(-62 338.2 670.4)" textLength="30.3" lengthAdjust="spacingAndGlyphs" class="r">Control</text>
<text x="366.5" y="667.1" font-size="9.0" text-anchor="middle" transform="rotate(-61 366.5 667.1)" textLength="25.5" lengthAdjust="spacingAndGlyphs" class="r">ERp57</text>
<text x="376.4" y="671.9" font-size="9.0" text-anchor="middle" transform="rotate(-63 376.4 671.9)" textLength="26.7" lengthAdjust="spacingAndGlyphs" class="r">(oo-oo)</text>
<text x="433.2" y="502" font-size="10" text-anchor="middle" font-weight="normal" class="n">ii</text>
<line x1="427.5" y1="518.5" x2="427.5" y2="646.0" stroke-width="1.4" stroke="#000"/>
<line x1="426.9" y1="645.4" x2="520" y2="645.4" stroke-width="1.4" stroke="#000"/>
<text x="423.5" y="646.4" font-size="9.4" text-anchor="end">0</text>
<line x1="427.5" y1="627.4" x2="431.0" y2="627.4" stroke-width="1.1" stroke="#000"/>
<text x="423.5" y="630.7" font-size="9.4" text-anchor="end">10</text>
<line x1="427.5" y1="609.4" x2="431.0" y2="609.4" stroke-width="1.1" stroke="#000"/>
<text x="423.5" y="612.7" font-size="9.4" text-anchor="end">20</text>
<line x1="427.5" y1="591.4" x2="431.0" y2="591.4" stroke-width="1.1" stroke="#000"/>
<text x="423.5" y="594.7" font-size="9.4" text-anchor="end">30</text>
<line x1="427.5" y1="573.4" x2="431.0" y2="573.4" stroke-width="1.1" stroke="#000"/>
<text x="423.5" y="576.7" font-size="9.4" text-anchor="end">40</text>
<line x1="427.5" y1="555.4" x2="431.0" y2="555.4" stroke-width="1.1" stroke="#000"/>
<text x="423.5" y="558.7" font-size="9.4" text-anchor="end">50</text>
<line x1="427.5" y1="537.4" x2="431.0" y2="537.4" stroke-width="1.1" stroke="#000"/>
<text x="423.5" y="540.7" font-size="9.4" text-anchor="end">60</text>
<line x1="427.5" y1="519.4" x2="431.0" y2="519.4" stroke-width="1.1" stroke="#000"/>
<text x="423.5" y="522.7" font-size="9.4" text-anchor="end">70</text>
<text x="405.3" y="580.5" font-size="8.8" text-anchor="middle" transform="rotate(-90 405.3 580.5)" textLength="121" lengthAdjust="spacingAndGlyphs">Mean fluorescent intensity</text>
<line x1="459" y1="542" x2="459" y2="546.3" stroke-width="1.4" stroke="#000"/>
<line x1="457" y1="542" x2="461" y2="542" stroke-width="1.4" stroke="#000"/>
<rect x="452" y="546.3" width="13.8" height="99.10000000000002" fill="#fff" stroke="#000" stroke-width="1.4"/>
<line x1="493.2" y1="579.5" x2="493.2" y2="582.5" stroke-width="1.4" stroke="#000"/>
<line x1="491.2" y1="579.5" x2="495.2" y2="579.5" stroke-width="1.4" stroke="#000"/>
<rect x="486.3" y="582.5" width="13.8" height="62.89999999999998" fill="#fff" stroke="#000" stroke-width="1.4"/>
<path d="M459.3,537 Q459.3,534.3 462.3,534.3 L495.8,534.3 Q498.8,534.3 498.8,537" stroke-width="1.5" fill="none" stroke="#000"/>
<text x="480" y="528.5" font-size="9.2" text-anchor="middle"><tspan font-style="italic">P</tspan> = 0.003</text>
<text x="453.8" y="664.3" font-size="9.0" text-anchor="middle" transform="rotate(-61 453.8 664.3)" textLength="16.5" lengthAdjust="spacingAndGlyphs" class="r">PBS</text>
<text x="463.6" y="670.4" font-size="9.0" text-anchor="middle" transform="rotate(-62 463.6 670.4)" textLength="30.3" lengthAdjust="spacingAndGlyphs" class="r">Control</text>
<text x="486.6" y="667.1" font-size="9.0" text-anchor="middle" transform="rotate(-61 486.6 667.1)" textLength="25.5" lengthAdjust="spacingAndGlyphs" class="r">ERp57</text>
<text x="496.2" y="671.9" font-size="9.0" text-anchor="middle" transform="rotate(-63 496.2 671.9)" textLength="26.7" lengthAdjust="spacingAndGlyphs" class="r">(oo-oo)</text>
</g>
</svg>
</body></html>
